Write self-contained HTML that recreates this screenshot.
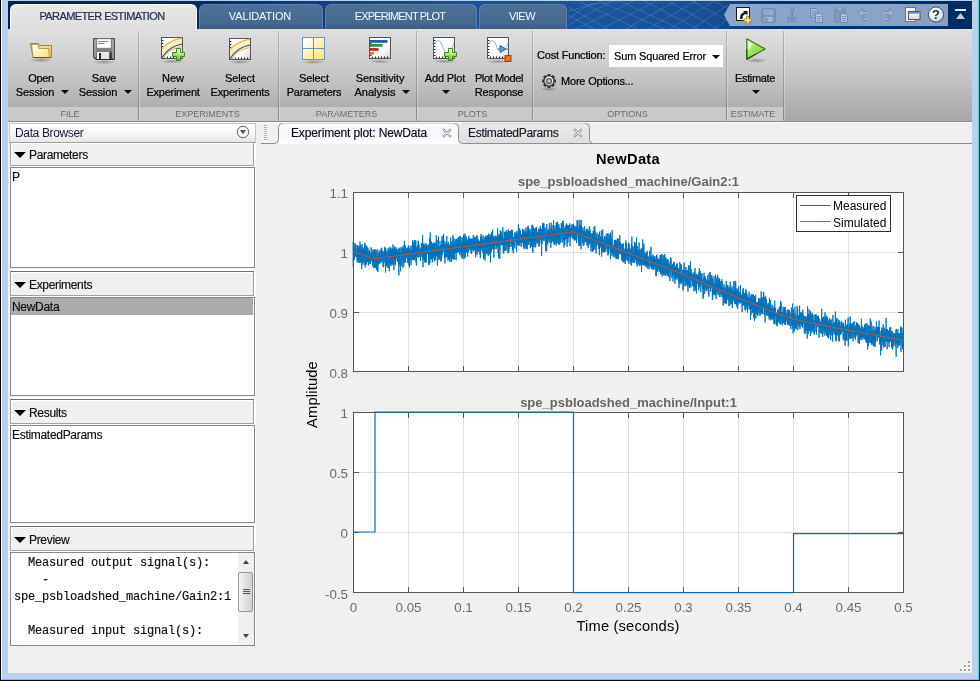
<!DOCTYPE html>
<html><head><meta charset="utf-8"><title>Parameter Estimation</title>
<style>
*{box-sizing:border-box;margin:0;padding:0}
html,body{width:980px;height:681px;overflow:hidden;background:#f0f0f0}
body{position:relative;font-family:"Liberation Sans",sans-serif;font-size:12px;color:#000}
.a{position:absolute}
/* header */
#hdr{left:8px;top:1px;width:964px;height:28px;background:linear-gradient(90deg,#04204d 0,#062a62 190px,#0d4088 320px,#16509e 470px,#1a559c 600px,#174f96 700px,#063070 760px,#002d62 964px)}
.tab{top:4px;height:25px;border-radius:6px 6px 0 0;text-align:center;font-size:11px;line-height:23px;color:#f6f9fc;background:linear-gradient(#4d7099,#47698f 75%,#3b5b81);border:1px solid #5f80a6;border-bottom:none;white-space:nowrap}
.tab.act{background:linear-gradient(#e7e7e7,#dfdfdf);color:#222e4e;border:1px solid #fdfdfd;border-bottom:none}
.tab span{display:inline-block}
#strip{left:8px;top:29px;width:964px;height:92px;background:linear-gradient(#dfdfdf 0,#d4d4d4 25%,#c3c3c3 55%,#b2b2b2 80%,#a8a8a8 100%)}
.seclab{top:107px;height:14px;background:#c9c9c9;font-size:9px;color:#676e78;text-align:center;line-height:14px;white-space:nowrap}
.vsep{top:31px;width:1px;height:89px;background:rgba(0,0,0,.2);box-shadow:1px 0 0 rgba(255,255,255,.3)}
.btn{text-align:center;font-size:11px;line-height:14px;color:#000;white-space:nowrap;-webkit-text-stroke:.22px #000}
.btn i{display:block;font-style:normal}
.arr{position:absolute;width:0;height:0;border-left:4px solid transparent;border-right:4px solid transparent;border-top:4px solid #0a0a0a}
/* panels */
.ph,.pl,.dt{-webkit-text-stroke:.15px #0a0a14}
.ph{left:10px;width:244px;height:25px;border:1px solid #a0a0a0;border-top-color:#6e6e6e;box-shadow:inset 1px 1px 0 #fff;background:#f0f0f0;font-size:12px;line-height:26px;padding-left:18px;letter-spacing:-.32px;color:#0a0a14;white-space:nowrap}
.ph.p0{height:24px;line-height:24px}
.ph.p0:before{top:9px}
.ph:before{content:"";position:absolute;left:3px;top:10px;border-left:6px solid transparent;border-right:6px solid transparent;border-top:6px solid #000}
.pl{left:10px;width:245px;border:1px solid #828790;background:#fff;font-size:12px;line-height:17px;letter-spacing:-.3px;color:#0a0a14}
.li{position:absolute;left:1px;top:1px;line-height:17px;white-space:nowrap}
.dt{font-size:12px;line-height:19px;white-space:nowrap}
.mono{font-family:"Liberation Mono",monospace;font-size:12px;letter-spacing:-.2px}
svg text{font-family:"Liberation Sans",sans-serif}
</style></head><body>
<!-- window frame -->
<div class="a" style="left:0;top:0;width:980px;height:681px;background:#b9d1ea"></div>
<div class="a" style="left:0;top:0;width:1px;height:681px;background:#0a0a0a"></div>
<div class="a" style="left:1px;top:0;width:1px;height:679px;background:#f6f9fd"></div>
<div class="a" style="left:978px;top:0;width:1px;height:680px;background:#35e0f7"></div>
<div class="a" style="left:979px;top:0;width:1px;height:681px;background:#0a0a0a"></div>
<div class="a" style="left:1px;top:679px;width:978px;height:1px;background:#35e0f7"></div>
<div class="a" style="left:0;top:680px;width:980px;height:1px;background:#0a0a0a"></div>
<div class="a" style="left:8px;top:1px;width:964px;height:672px;background:#f0f0f0"></div>
<!-- header -->
<div id="hdr" class="a"></div>
<div class="a tab act" style="left:10px;width:187px;padding-right:3px"><span style="letter-spacing:-.6px;-webkit-text-stroke:.2px #222e4e">PARAMETER ESTIMATION</span></div>
<div class="a tab" style="left:199px;width:124px;padding-right:2px"><span style="letter-spacing:-.15px">VALIDATION</span></div>
<div class="a tab" style="left:325px;width:152px;padding-right:2px"><span style="letter-spacing:-.85px">EXPERIMENT PLOT</span></div>
<div class="a tab" style="left:479px;width:88px;padding-right:2px"><span style="letter-spacing:-.5px">VIEW</span></div>
<div class="a" style="left:724px;top:4px;width:224px;height:22px;background:linear-gradient(90deg,#8aa6cb,#8ba4c6 60%,#8c9fbd);clip-path:polygon(6px 0,100% 0,100% 100%,6px 100%,0 50%)"></div>
<svg class="a" style="left:568px;top:1px;pointer-events:none" width="160" height="28" viewBox="0 0 160 28"><g fill="none" stroke="#8fb0dc" stroke-opacity=".33" stroke-width=".8"><path d="M0 6L40 28M0 14L26 28M10 0L70 28M30 0L96 28M52 0L112 28M76 0L130 28M100 0L150 28M124 0L160 20M146 0L160 8M0 24L44 0M8 28L66 0M34 28L88 0M58 28L108 0M80 28L128 0M102 28L146 0M124 28L160 4M146 28L160 18M0 18L20 4L50 0M0 10L30 2"/></g></svg>
<svg class="a" style="left:0;top:0;pointer-events:none" width="980" height="30" viewBox="0 0 980 30">
<defs>
 <radialGradient id="gHelp" cx=".4" cy=".3" r=".8"><stop offset="0" stop-color="#ffffff"/><stop offset=".6" stop-color="#e4e9f0"/><stop offset="1" stop-color="#b9c3d2"/></radialGradient>
 <linearGradient id="gWin" x1="0" y1="0" x2="0" y2="1"><stop offset="0" stop-color="#ffffff"/><stop offset="1" stop-color="#d8d8d8"/></linearGradient>
</defs>
<!-- shortcut/new -->
<g transform="translate(736,7)">
 <rect x=".5" y=".5" width="13" height="13" fill="#fdfdfd" stroke="#1a1a1a" stroke-width="1"/>
 <path d="M4 12C4 7.500 6 5.500 8.500 5.500L7 4H11.500V8.500L10 7C8 7 6.500 8.500 6.500 12z" fill="#111"/>
 <path d="M10.500 9.500h2.500v2.500h2.500v2.500h-2.500v2.500h-2.500v-2.500h-2.500v-2.500h2.500z" fill="#ffe98a" stroke="#b8860b" stroke-width=".9" stroke-linejoin="round"/>
</g>
<!-- disabled save -->
<g transform="translate(761,8)" opacity=".85">
 <rect x=".5" y=".5" width="14" height="14" rx="1" fill="#7d96b8" stroke="#7088ab"/>
 <rect x="3" y="1.500" width="9" height="5" fill="#a2b6d1"/>
 <path d="M4 3h7M4 5h5" stroke="#7d96b8" stroke-width=".8"/>
 <rect x="3.500" y="9" width="8" height="5" fill="#a9bcd6"/>
 <rect x="4.500" y="10" width="2" height="4" fill="#7088ab"/>
</g>
<!-- cut -->
<g transform="translate(787,7)" fill="none" stroke="#7189ac" stroke-width="1.200">
 <path d="M3.500 10.500L6.500 .5M6 10.500L3 .5" transform="translate(0.500,0)"/>
 <ellipse cx="2.500" cy="12.500" rx="1.800" ry="2.200"/>
 <ellipse cx="7" cy="12.500" rx="1.800" ry="2.200"/>
</g>
<!-- copy -->
<g transform="translate(810,8)">
 <path d="M.5 .5h5l2 2v7h-7z" fill="#a4b7d2" stroke="#7189ac"/>
 <path d="M2 3.500h4M2 5.500h4M2 7.500h3" stroke="#7189ac" stroke-width=".8"/>
 <path d="M5.500 5.500h5l2 2v7h-7z" fill="#b0c1d9" stroke="#7189ac"/>
 <path d="M7 8.500h4M7 10.500h4M7 12.500h3" stroke="#7189ac" stroke-width=".8"/>
</g>
<!-- paste -->
<g transform="translate(834,7)">
 <rect x=".5" y="2.500" width="11" height="12.500" rx="1" fill="#8098ba" stroke="#7189ac"/>
 <rect x="3.500" y=".8" width="5" height="3" rx="1" fill="#9fb3cf" stroke="#7189ac" stroke-width=".8"/>
 <path d="M6.500 6.500h5l2 2v7h-7z" fill="#b0c1d9" stroke="#7189ac"/>
 <path d="M8 9.500h4M8 11.500h4M8 13.500h3" stroke="#7189ac" stroke-width=".8"/>
</g>
<!-- undo -->
<g transform="translate(857,8)">
 <path d="M.5 5L6 .5V3.500H9.500C13 3.500 14 6 14 8C14 11 12 12.500 9.500 12.500H5.500V10H9.500C11 10 11.500 9 11.500 8C11.500 7 11 6.200 9.500 6.200H6V9.500z" fill="#9fb3cf" stroke="#7189ac" stroke-width=".9" stroke-linejoin="round"/>
</g>
<!-- redo -->
<g transform="translate(895,8) scale(-1,1)">
 <path d="M.5 5L6 .5V3.500H9.500C13 3.500 14 6 14 8C14 11 12 12.500 9.500 12.500H5.500V10H9.500C11 10 11.500 9 11.500 8C11.500 7 11 6.200 9.500 6.200H6V9.500z" fill="#9fb3cf" stroke="#7189ac" stroke-width=".9" stroke-linejoin="round"/>
</g>
<!-- windows -->
<g transform="translate(905,7)">
 <rect x=".5" y=".5" width="10" height="14" fill="#ededed" stroke="#6a6a6a" stroke-width=".9"/>
 <rect x="1" y="1" width="9" height="2" fill="#fafafa"/>
 <rect x="3.500" y="4.500" width="11.500" height="8" fill="url(#gWin)" stroke="#4a4a4a" stroke-width=".9"/>
 <rect x="4" y="5" width="10.500" height="1.800" fill="#5b9ad8"/>
</g>
<!-- help -->
<g transform="translate(936,14.500)">
 <circle r="7.600" fill="url(#gHelp)" stroke="#34517a" stroke-width="1"/>
 <text x="0" y="4.600" font-size="13" font-weight="bold" text-anchor="middle" fill="#26303f" font-family="Liberation Sans,sans-serif">?</text>
</g>
<!-- minimize -->
<rect x="955" y="9" width="11" height="2" fill="#e4e8ee"/>
<path d="M956 19L960.500 13L965 19z" fill="#c2cddc"/>
</svg>

<!-- toolstrip -->
<div id="strip" class="a"></div>
<div class="a seclab" style="left:8px;width:130px"><span style="position:relative;left:-3px">FILE</span></div>
<div class="a seclab" style="left:139px;width:139px"><span style="position:relative;left:-1px">EXPERIMENTS</span></div>
<div class="a seclab" style="left:279px;width:137px"><span style="position:relative;left:-1px">PARAMETERS</span></div>
<div class="a seclab" style="left:417px;width:115px"><span style="position:relative;left:-2px">PLOTS</span></div>
<div class="a seclab" style="left:533px;width:193px"><span style="position:relative;left:-2px">OPTIONS</span></div>
<div class="a seclab" style="left:727px;width:56px"><span style="position:relative;left:-2px">ESTIMATE</span></div>
<div class="a vsep" style="left:138px"></div>
<div class="a vsep" style="left:278px"></div>
<div class="a vsep" style="left:416px"></div>
<div class="a vsep" style="left:532px"></div>
<div class="a vsep" style="left:726px"></div>
<div class="a vsep" style="left:783px"></div>
<div class="a btn" style="left:11px;top:71px;width:60px"><i style="letter-spacing:-.35px">Open</i><i style="letter-spacing:-.1px;position:relative;left:-6px">Session</i></div><div class="a arr" style="left:61px;top:90px"></div>
<div class="a btn" style="left:74px;top:71px;width:60px"><i style="letter-spacing:-.12px">Save</i><i style="letter-spacing:-.1px;position:relative;left:-6px">Session</i></div><div class="a arr" style="left:124px;top:90px"></div>
<div class="a btn" style="left:138px;top:71px;width:70px"><i>New</i><i style="letter-spacing:-.25px">Experiment</i></div>
<div class="a btn" style="left:205px;top:71px;width:70px"><i style="letter-spacing:-.1px">Select</i><i style="letter-spacing:-.2px">Experiments</i></div>
<div class="a btn" style="left:279px;top:71px;width:70px"><i style="letter-spacing:-.1px">Select</i><i style="letter-spacing:-.22px">Parameters</i></div>
<div class="a btn" style="left:345px;top:71px;width:70px"><i style="letter-spacing:-.08px">Sensitivity</i><i style="position:relative;left:-5px">Analysis</i></div><div class="a arr" style="left:402px;top:90px"></div>
<div class="a btn" style="left:415px;top:71px;width:60px"><i style="letter-spacing:-.14px">Add Plot</i></div><div class="a arr" style="left:442px;top:90px"></div>
<div class="a btn" style="left:469px;top:71px;width:60px"><i style="letter-spacing:-.38px">Plot Model</i><i style="letter-spacing:-.13px">Response</i></div>
<div class="a btn" style="left:537px;top:48px;text-align:left;letter-spacing:-.19px">Cost Function:</div>
<div class="a" style="left:609px;top:45px;width:114px;height:22px;background:#fff;font-size:11px;line-height:22px;padding-left:5px;letter-spacing:-.16px;white-space:nowrap;-webkit-text-stroke:.2px #000">Sum Squared Error</div><div class="a arr" style="left:712px;top:55px"></div>
<div class="a btn" style="left:561px;top:74px;text-align:left;letter-spacing:-.19px">More Options...</div>
<div class="a btn" style="left:725px;top:71px;width:60px"><i style="letter-spacing:-.37px">Estimate</i></div><div class="a arr" style="left:752px;top:90px"></div>
<svg class="a" style="left:0;top:0;pointer-events:none" width="980" height="130" viewBox="0 0 980 130">
<defs>
 <linearGradient id="gFold" x1="0" y1="0" x2="1" y2="1"><stop offset="0" stop-color="#ffffff"/><stop offset=".3" stop-color="#fffdf0"/><stop offset=".6" stop-color="#fdf0a8"/><stop offset="1" stop-color="#f6da6a"/></linearGradient>
 <linearGradient id="gFl" x1="0" y1="0" x2="0" y2="1"><stop offset="0" stop-color="#909090"/><stop offset=".5" stop-color="#848484"/><stop offset="1" stop-color="#5e5e5e"/></linearGradient>
 <linearGradient id="gPaper" x1="0" y1="0" x2="1" y2="1"><stop offset="0" stop-color="#fff"/><stop offset=".6" stop-color="#fff"/><stop offset="1" stop-color="#d4d4d4"/></linearGradient>
 <linearGradient id="gPlus" x1="0" y1="0" x2="0" y2="1"><stop offset="0" stop-color="#f2fbdc"/><stop offset=".45" stop-color="#b6e070"/><stop offset="1" stop-color="#6fb830"/></linearGradient>
 <linearGradient id="gCell" gradientUnits="userSpaceOnUse" x1="0" y1="0" x2="23" y2="23"><stop offset="0" stop-color="#ffffff"/><stop offset=".18" stop-color="#fffef4"/><stop offset=".55" stop-color="#fdf1ae"/><stop offset="1" stop-color="#fae283"/></linearGradient>
 <linearGradient id="gCell0" x1="0" y1="0" x2="1" y2="1"><stop offset="0" stop-color="#ffffff"/><stop offset="1" stop-color="#fdf0b5"/></linearGradient>
 <linearGradient id="gPlay" x1="0" y1="0" x2="1" y2="1"><stop offset="0" stop-color="#d6f2a0"/><stop offset=".5" stop-color="#a0dc58"/><stop offset="1" stop-color="#78c838"/></linearGradient>
 <linearGradient id="gGear" x1="0" y1="0" x2="0" y2="1"><stop offset="0" stop-color="#ffffff"/><stop offset="1" stop-color="#c9c9c9"/></linearGradient>
 <radialGradient id="gSh"><stop offset="0" stop-color="#000" stop-opacity=".28"/><stop offset="1" stop-color="#000" stop-opacity="0"/></radialGradient>
 <g id="plotbox">
  <rect x=".5" y=".5" width="21" height="21" fill="url(#gPaper)" stroke="#555" stroke-width="1"/>
  <path d="M1 3.500h1.400M1 6.500h1.400M1 9.500h1.400M1 12.500h1.400M1 15.500h1.400M1 18.500h1.400M3.500 21v-1.400M6.500 21v-1.400M9.500 21v-1.400M12.500 21v-1.400M15.500 21v-1.400M18.500 21v-1.400" stroke="#222" stroke-width="1.1" fill="none"/>
 </g>
 <g id="plus">
  <path d="M4.500 .5h4v4h4v4h-4v4h-4v-4h-4v-4h4z" fill="url(#gPlus)" stroke="#3f8a1c" stroke-width="1" stroke-linejoin="round"/>
  <path d="M5.500 1.700h2v3.800h3.800" fill="none" stroke="#eefad8" stroke-width=".8" opacity=".8"/>
 </g>
 <g id="curves">
  <path d="M1 11C5 6.500 11 2.800 21 1V9.500C14 10 8 13 3 21H1z" fill="#f9edcc"/>
  <path d="M1 11.500C5 6.800 11 3 21 1.200" fill="none" stroke="#e8b550" stroke-width="1.300"/>
  <path d="M2.500 21C7 13.500 13 10.500 21 9.600" fill="none" stroke="#ecc070" stroke-width="1.300"/>
  <path d="M1 20.800C5 13.500 11 9 21 7" fill="none" stroke="#1d4a86" stroke-width="1.200"/>
 </g>
</defs>
<!-- shadows -->
<g>
 <ellipse cx="41" cy="60" rx="12.500" ry="2.600" fill="url(#gSh)"/>
 <ellipse cx="104" cy="62" rx="12" ry="2.200" fill="url(#gSh)"/>
 <ellipse cx="172" cy="61.500" rx="12" ry="2.200" fill="url(#gSh)"/>
 <ellipse cx="240" cy="62" rx="12" ry="2.200" fill="url(#gSh)"/>
 <ellipse cx="313.500" cy="62" rx="12" ry="2.200" fill="url(#gSh)"/>
 <ellipse cx="380" cy="61.500" rx="12" ry="2.200" fill="url(#gSh)"/>
 <ellipse cx="444" cy="61.500" rx="12" ry="2.200" fill="url(#gSh)"/>
 <ellipse cx="498" cy="61.500" rx="12" ry="2.200" fill="url(#gSh)"/>
 <ellipse cx="756" cy="60.500" rx="11" ry="2.600" fill="url(#gSh)"/>
 <ellipse cx="549" cy="89" rx="8.500" ry="2.200" fill="url(#gSh)"/>
</g>
<!-- open folder -->
<g transform="translate(30,43)">
 <path d="M.5 .5H8.500L9.500 2.500H21.500V14.500H3z" fill="#e9c988" stroke="#b37d22" stroke-width="1" stroke-linejoin="miter"/>
 <path d="M10 4h10.500" stroke="#f8ecc8" stroke-width="1"/>
 <path d="M1.500 1.500H7.500L8.800 5.500H18.500L19.500 14.500H3.200z" fill="url(#gFold)" stroke="#b98a2c" stroke-width=".8" stroke-linejoin="miter"/>
 <path d="M3 14.500H20.500" stroke="#7a5608" stroke-width="1"/>
</g>
<!-- save floppy -->
<g transform="translate(93,38)">
 <path d="M.5 .5H21.500V21.500H2.500L.5 19.500z" fill="url(#gFl)" stroke="#4c4c4c" stroke-width="1"/>
 <path d="M2 1.500V19M20 1.500V20.500" stroke="#b4b4b4" stroke-width="1.400" opacity=".8"/>
 <rect x="3.800" y=".8" width="14.400" height="9.400" fill="#fdfdfd" stroke="#6e6e6e" stroke-width=".7"/>
 <path d="M5 3.500h10.500M5 5.500h6.500" stroke="#8c8c8c" stroke-width="1"/>
 <rect x="4" y="14" width="12.200" height="7" fill="#f6f6f6"/>
 <rect x="8" y="15" width="8" height="6" fill="#e6e6e6"/>
 <rect x="6" y="15" width="2" height="6" fill="#2c2c2c"/>
 <rect x="16.500" y="14" width="2.200" height="7" fill="#3c3c3c"/>
 <path d="M3 21.500H21" stroke="#2e2e2e" stroke-width="1"/>
</g>
<!-- new experiment -->
<g transform="translate(161,37)"><use href="#plotbox"/><use href="#curves"/><g transform="translate(11,11)"><use href="#plus"/></g></g>
<!-- select experiments -->
<g transform="translate(229,38)"><use href="#plotbox"/><use href="#curves"/></g>
<!-- select parameters -->
<g transform="translate(302,37)">
 <rect x="0" y="0" width="23" height="23" fill="#7193bf"/>
 <rect x="1" y="1" width="10" height="10" fill="url(#gCell)"/>
 <rect x="12" y="1" width="10" height="10" fill="url(#gCell)"/>
 <rect x="1" y="12" width="10" height="10" fill="url(#gCell)"/>
 <rect x="12" y="12" width="10" height="10" fill="url(#gCell)"/>
</g>
<!-- sensitivity -->
<g transform="translate(369,37)"><use href="#plotbox"/>
 <rect x="1" y="3" width="17.500" height="2.800" fill="#1f5fb0"/>
 <rect x="1" y="7" width="12.500" height="2.800" fill="#2d9a43"/>
 <rect x="1" y="11" width="8.500" height="2.800" fill="#d9202a"/>
 <rect x="1" y="15" width="3.800" height="2.800" fill="#e07a1c"/>
</g>
<!-- add plot -->
<g transform="translate(433,37)"><use href="#plotbox"/>
 <path d="M2 6.500C4 2.500 7 2.500 9 8S13.500 20 16 18S19.500 10 21 5" fill="none" stroke="#9cc4ea" stroke-width="1.100"/>
 <g transform="translate(11,11)"><use href="#plus"/></g></g>
<!-- plot model response -->
<g transform="translate(487,37)"><use href="#plotbox"/>
 <path d="M2 6.500C4 2.500 7 2.500 9 8S11 13 12 14M19.500 10L21 5" fill="none" stroke="#9cc4ea" stroke-width="1.100"/>
 <path d="M10.500 12h11" stroke="#777" stroke-width="1"/>
 <path d="M13 8.500L19 12L13 15.500z" fill="#5aa0e6" stroke="#1b5fb5" stroke-width="1" stroke-linejoin="round"/>
 <rect x="18" y="18.500" width="6" height="6" fill="#e4671a" stroke="#a5400a" stroke-width="1"/>
 <path d="M19.500 23L23 19.500" stroke="#f59a4a" stroke-width="1"/>
</g>
<!-- gear -->
<g transform="translate(549,81)">
 <g fill="#3a3a3a"><rect x="-1.700" y="-7" width="3.400" height="14" rx=".7"/><rect x="-1.700" y="-7" width="3.400" height="14" rx=".7" transform="rotate(45)"/><rect x="-1.700" y="-7" width="3.400" height="14" rx=".7" transform="rotate(90)"/><rect x="-1.700" y="-7" width="3.400" height="14" rx=".7" transform="rotate(135)"/></g>
 <circle r="5.400" fill="#3a3a3a"/>
 <circle r="4.400" fill="url(#gGear)"/>
 <circle r="2.900" fill="#3a3a3a"/>
 <circle r="1.900" fill="#c4c4c4"/>
</g>
<!-- play -->
<g transform="translate(746,38)">
 <path d="M.8 .8L19.200 11L.8 21.200z" fill="url(#gPlay)" stroke="#2f7a10" stroke-width="1.100" stroke-linejoin="round"/>
 <path d="M.8 11V21.200L10 16.100" fill="none" stroke="#123a08" stroke-width="1.100" stroke-linejoin="round" opacity=".75"/>
 <path d="M2.300 3.200V12L7 5.800z" fill="#ffffff" opacity=".75"/>
</g>
</svg>

<div class="a" style="left:8px;top:121px;width:964px;height:1px;background:#8c8c8c"></div>
<div class="a" style="left:8px;top:122px;width:964px;height:1px;background:#f8f8f8"></div>
<!-- data browser -->
<div class="a" style="left:9px;top:123px;width:247px;height:20px;border:1px solid #c6c6c6;border-bottom-color:#a0a0a0;background:linear-gradient(#ffffff,#fafafa 40%,#ececec 80%,#e6e6e6);font-size:12px;line-height:18px;padding-left:5px;color:#1a1a3a;letter-spacing:-.35px">Data Browser</div>
<svg class="a" style="left:236px;top:125px" width="14" height="14" viewBox="0 0 14 14"><circle cx="7" cy="7" r="5.700" fill="#f6f6f6" stroke="#666" stroke-width="1"/><path d="M4 5h6l-3 4.500z" fill="#5a5a5a"/></svg>
<div class="a" style="left:10px;top:143px;width:246px;height:530px;background:#fff"></div>
<div class="a ph p0" style="top:142px;border-top-color:#a0a0a0">Parameters</div>
<div class="a pl" style="top:167px;height:101px"><span class="li">P</span></div>
<div class="a" style="left:10px;top:268px;width:246px;height:1px;background:#f4f4f4"></div>
<div class="a ph" style="top:271px">Experiments</div>
<div class="a pl" style="top:297px;height:99px"><div class="a" style="left:0;top:0;width:242px;height:17px;background:#ababab"></div><span class="li">NewData</span></div>
<div class="a" style="left:10px;top:396px;width:246px;height:1px;background:#f4f4f4"></div>
<div class="a ph" style="top:399px">Results</div>
<div class="a pl" style="top:425px;height:98px"><span class="li">EstimatedParams</span></div>
<div class="a" style="left:10px;top:523px;width:246px;height:1px;background:#f4f4f4"></div>
<div class="a ph" style="top:526px">Preview</div>
<div class="a pl mono" style="top:552px;height:94px;padding-left:3px;white-space:pre;line-height:17px;overflow:hidden;padding-top:2px">  Measured output signal(s):
    -
spe_psbloadshed_machine/Gain2:1

  Measured input signal(s):</div>
<div class="a" style="left:9px;top:646px;width:248px;height:27px;background:#f0f0f0"></div>
<div class="a" style="left:256px;top:123px;width:5px;height:550px;background:#f0f0f0"></div>
<!-- preview scrollbar -->
<div class="a" style="left:238px;top:553px;width:16px;height:92px;background:#f0f0f0"></div>
<div class="a" style="left:238px;top:572px;width:15px;height:40px;border:1px solid #979797;border-radius:2px;background:linear-gradient(90deg,#f5f5f5,#e2e2e2 50%,#d0d0d0)"></div>
<div class="a" style="left:243px;top:589px;width:7px;height:1px;background:#555;box-shadow:0 2px 0 #555,0 4px 0 #555"></div>
<div class="a" style="left:243px;top:560px;width:0;height:0;border-left:3.5px solid transparent;border-right:3.5px solid transparent;border-bottom:4px solid #444"></div>
<div class="a" style="left:243px;top:634px;width:0;height:0;border-left:3.5px solid transparent;border-right:3.5px solid transparent;border-top:4px solid #444"></div>
<!-- doc tabs -->
<div class="a" style="left:264px;top:125px;width:3px;height:16px;background:repeating-linear-gradient(#b4b4b4 0,#b4b4b4 1px,#f4f4f4 1px,#f4f4f4 2px)"></div>
<svg class="a" style="left:0;top:0;pointer-events:none" width="980" height="150" viewBox="0 0 980 150">
 <defs><linearGradient id="gT1" x1="0" y1="0" x2="0" y2="1"><stop offset="0" stop-color="#fefefe"/><stop offset=".45" stop-color="#f4f6fb"/><stop offset="1" stop-color="#ffffff"/></linearGradient>
 <linearGradient id="gT2" x1="0" y1="0" x2="0" y2="1"><stop offset="0" stop-color="#ebebeb"/><stop offset="1" stop-color="#dedede"/></linearGradient></defs>
 <path d="M458.500 123.500H585.500Q589.500 123.500 589.500 127.500V139.500Q589.500 143.500 593.500 143.500H458.500z" fill="url(#gT2)"/>
 <path d="M274.500 144Q278.500 143.500 278.500 139.500V127.500Q278.500 123.500 282.500 123.500H454.500Q458.500 123.500 458.500 127.500V139.500Q458.500 143.500 462.500 144z" fill="url(#gT1)"/>
 <path d="M282.500 123.500H454.500M462.500 123.500H585.500" fill="none" stroke="#d2d2d2" stroke-width="1"/>
 <path d="M261 143.500H274.500Q278.500 143.500 278.500 139.500V127.500Q278.500 123.500 282.500 123.500M454.500 123.500Q458.500 123.500 458.500 127.500V139.500Q458.500 143.500 462.500 143.500H972M585.500 123.500Q589.500 123.500 589.500 127.500V139.500Q589.500 143.500 593.500 143.500" fill="none" stroke="#8e8e8e" stroke-width="1"/>
 <g fill="none"><path d="M444 130l6 6M450 130l-6 6M575 130l6 6M581 130l-6 6" stroke="#9c9c9c" stroke-width="2.400" stroke-linecap="square"/><path d="M444 130l6 6M450 130l-6 6M575 130l6 6M581 130l-6 6" stroke="#eeeeee" stroke-width=".9" stroke-linecap="square"/></g>
</svg>
<div class="a dt" style="left:291px;top:124px;letter-spacing:-.14px;color:#0a0a14">Experiment plot: NewData</div>
<div class="a dt" style="left:468px;top:124px;letter-spacing:-.29px;color:#1a1a2a">EstimatedParams</div>
<!-- resize grip -->
<div class="a" style="left:960px;top:661px;width:11px;height:11px">
 <div class="a" style="left:8px;top:0;width:2px;height:2px;background:#a8a392;box-shadow:1px 1px 0 #fff,-4px 4px 0 #a8a392,-3px 5px 0 #fff,0 4px 0 #a8a392,1px 5px 0 #fff,-8px 8px 0 #a8a392,-7px 9px 0 #fff,-4px 8px 0 #a8a392,-3px 9px 0 #fff,0 8px 0 #a8a392,1px 9px 0 #fff"></div>
</div>
<!-- plot -->
<svg class="a" style="left:0;top:0" width="980" height="681" viewBox="0 0 980 681">
 <rect x="353.5" y="192.5" width="550" height="179" fill="#fff"/>
 <rect x="353.5" y="412.5" width="550" height="180" fill="#fff"/>
 <g stroke="#dfdfdf" stroke-width="1" fill="none">
 <line x1="408.5" x2="408.5" y1="193" y2="371"/>
<line x1="408.5" x2="408.5" y1="413" y2="592"/>
<line x1="463.5" x2="463.5" y1="193" y2="371"/>
<line x1="463.5" x2="463.5" y1="413" y2="592"/>
<line x1="518.5" x2="518.5" y1="193" y2="371"/>
<line x1="518.5" x2="518.5" y1="413" y2="592"/>
<line x1="573.5" x2="573.5" y1="193" y2="371"/>
<line x1="573.5" x2="573.5" y1="413" y2="592"/>
<line x1="628.5" x2="628.5" y1="193" y2="371"/>
<line x1="628.5" x2="628.5" y1="413" y2="592"/>
<line x1="683.5" x2="683.5" y1="193" y2="371"/>
<line x1="683.5" x2="683.5" y1="413" y2="592"/>
<line x1="738.5" x2="738.5" y1="193" y2="371"/>
<line x1="738.5" x2="738.5" y1="413" y2="592"/>
<line x1="793.5" x2="793.5" y1="193" y2="371"/>
<line x1="793.5" x2="793.5" y1="413" y2="592"/>
<line x1="848.5" x2="848.5" y1="193" y2="371"/>
<line x1="848.5" x2="848.5" y1="413" y2="592"/>
<line x1="354" x2="903" y1="252.5" y2="252.5"/>
<line x1="354" x2="903" y1="312.5" y2="312.5"/>
<line x1="354" x2="903" y1="472.5" y2="472.5"/>
<line x1="354" x2="903" y1="532.5" y2="532.5"/>
 </g>
 <g stroke="#555" stroke-width="1" fill="none">
  <rect x="353.5" y="192.5" width="550" height="179"/>
  <rect x="353.5" y="412.5" width="550" height="180"/>
  <line x1="408.5" x2="408.5" y1="371.5" y2="366"/><line x1="408.5" x2="408.5" y1="192.5" y2="198"/>
<line x1="408.5" x2="408.5" y1="592.5" y2="587"/><line x1="408.5" x2="408.5" y1="412.5" y2="418"/>
<line x1="463.5" x2="463.5" y1="371.5" y2="366"/><line x1="463.5" x2="463.5" y1="192.5" y2="198"/>
<line x1="463.5" x2="463.5" y1="592.5" y2="587"/><line x1="463.5" x2="463.5" y1="412.5" y2="418"/>
<line x1="518.5" x2="518.5" y1="371.5" y2="366"/><line x1="518.5" x2="518.5" y1="192.5" y2="198"/>
<line x1="518.5" x2="518.5" y1="592.5" y2="587"/><line x1="518.5" x2="518.5" y1="412.5" y2="418"/>
<line x1="573.5" x2="573.5" y1="371.5" y2="366"/><line x1="573.5" x2="573.5" y1="192.5" y2="198"/>
<line x1="573.5" x2="573.5" y1="592.5" y2="587"/><line x1="573.5" x2="573.5" y1="412.5" y2="418"/>
<line x1="628.5" x2="628.5" y1="371.5" y2="366"/><line x1="628.5" x2="628.5" y1="192.5" y2="198"/>
<line x1="628.5" x2="628.5" y1="592.5" y2="587"/><line x1="628.5" x2="628.5" y1="412.5" y2="418"/>
<line x1="683.5" x2="683.5" y1="371.5" y2="366"/><line x1="683.5" x2="683.5" y1="192.5" y2="198"/>
<line x1="683.5" x2="683.5" y1="592.5" y2="587"/><line x1="683.5" x2="683.5" y1="412.5" y2="418"/>
<line x1="738.5" x2="738.5" y1="371.5" y2="366"/><line x1="738.5" x2="738.5" y1="192.5" y2="198"/>
<line x1="738.5" x2="738.5" y1="592.5" y2="587"/><line x1="738.5" x2="738.5" y1="412.5" y2="418"/>
<line x1="793.5" x2="793.5" y1="371.5" y2="366"/><line x1="793.5" x2="793.5" y1="192.5" y2="198"/>
<line x1="793.5" x2="793.5" y1="592.5" y2="587"/><line x1="793.5" x2="793.5" y1="412.5" y2="418"/>
<line x1="848.5" x2="848.5" y1="371.5" y2="366"/><line x1="848.5" x2="848.5" y1="192.5" y2="198"/>
<line x1="848.5" x2="848.5" y1="592.5" y2="587"/><line x1="848.5" x2="848.5" y1="412.5" y2="418"/>
<line x1="353.5" x2="359" y1="252.5" y2="252.5"/><line x1="903.5" x2="898" y1="252.5" y2="252.5"/>
<line x1="353.5" x2="359" y1="312.5" y2="312.5"/><line x1="903.5" x2="898" y1="312.5" y2="312.5"/>
<line x1="353.5" x2="359" y1="472.5" y2="472.5"/><line x1="903.5" x2="898" y1="472.5" y2="472.5"/>
<line x1="353.5" x2="359" y1="532.5" y2="532.5"/><line x1="903.5" x2="898" y1="532.5" y2="532.5"/>
 </g>
 <polyline points="353,241.6 353.1,253.3 353.2,254.5 353.3,267.0 353.4,251.9 353.6,253.7 353.7,255.0 353.8,250.1 353.9,249.5 354,258.1 354.1,257.1 354.2,254.8 354.3,248.1 354.4,248.9 354.5,259.6 354.6,258.6 354.8,248.0 354.9,243.3 355,252.5 355.1,256.3 355.2,246.1 355.3,254.2 355.4,248.3 355.5,243.6 355.6,248.9 355.8,252.1 355.9,248.4 356,256.3 356.1,253.7 356.2,257.2 356.3,253.9 356.4,255.6 356.5,253.9 356.6,255.0 356.7,252.4 356.9,252.6 357,251.3 357.1,245.0 357.2,261.9 357.3,245.6 357.4,254.5 357.5,260.2 357.6,254.2 357.7,252.7 357.8,245.0 357.9,259.4 358.1,252.1 358.2,252.7 358.3,263.0 358.4,260.2 358.5,250.0 358.6,249.5 358.7,247.3 358.8,250.5 358.9,251.3 359.1,252.9 359.2,246.7 359.3,258.5 359.4,254.6 359.5,251.6 359.6,262.9 359.7,246.3 359.8,258.4 359.9,254.3 360,241.6 360.1,258.7 360.3,257.1 360.4,245.1 360.5,262.5 360.6,256.6 360.7,251.2 360.8,251.6 360.9,250.8 361,252.2 361.1,246.6 361.2,248.5 361.4,251.0 361.5,258.3 361.6,258.5 361.7,269.3 361.8,250.6 361.9,265.0 362,247.8 362.1,244.1 362.2,262.9 362.4,258.6 362.5,257.5 362.6,250.0 362.7,259.8 362.8,255.9 362.9,257.9 363,256.9 363.1,247.6 363.2,260.5 363.3,254.6 363.4,253.5 363.6,250.2 363.7,262.4 363.8,248.8 363.9,252.7 364,250.2 364.1,254.9 364.2,264.7 364.3,259.1 364.4,250.7 364.6,255.2 364.7,255.7 364.8,245.2 364.9,242.9 365,255.8 365.1,244.5 365.2,267.1 365.3,267.4 365.4,250.7 365.5,257.2 365.6,252.5 365.8,252.9 365.9,256.4 366,252.0 366.1,255.1 366.2,264.7 366.3,254.7 366.4,255.0 366.5,245.6 366.6,262.6 366.8,256.0 366.9,259.5 367,257.0 367.1,246.7 367.2,254.1 367.3,259.0 367.4,255.5 367.5,252.0 367.6,262.1 367.7,258.0 367.9,247.7 368,251.6 368.1,256.8 368.2,259.3 368.3,257.5 368.4,265.6 368.5,251.3 368.6,254.8 368.7,256.0 368.8,264.3 368.9,261.0 369.1,253.9 369.2,255.5 369.3,259.8 369.4,254.1 369.5,249.8 369.6,260.9 369.7,260.1 369.8,262.1 369.9,263.8 370.1,252.7 370.2,254.3 370.3,255.3 370.4,264.0 370.5,263.4 370.6,257.8 370.7,259.8 370.8,256.8 370.9,261.5 371,253.8 371.1,247.3 371.3,248.8 371.4,248.4 371.5,257.3 371.6,252.4 371.7,259.9 371.8,252.5 371.9,260.0 372,260.7 372.1,261.6 372.2,253.9 372.4,256.4 372.5,256.9 372.6,264.6 372.7,257.3 372.8,266.4 372.9,249.7 373,258.9 373.1,257.1 373.2,258.9 373.4,267.4 373.5,266.2 373.6,258.5 373.7,249.8 373.8,264.8 373.9,262.5 374,258.8 374.1,268.2 374.2,268.3 374.3,261.0 374.4,258.9 374.6,260.9 374.7,249.9 374.8,259.7 374.9,256.7 375,249.7 375.1,249.1 375.2,267.9 375.3,260.9 375.4,252.1 375.6,266.6 375.7,264.0 375.8,266.2 375.9,266.5 376,265.2 376.1,257.7 376.2,251.4 376.3,249.9 376.4,258.6 376.5,269.9 376.6,258.9 376.8,260.5 376.9,256.6 377,259.3 377.1,268.8 377.2,256.2 377.3,270.4 377.4,262.4 377.5,256.7 377.6,256.5 377.8,249.5 377.9,272.0 378,256.5 378.1,254.5 378.2,260.9 378.3,254.7 378.4,264.7 378.5,254.6 378.6,255.2 378.7,263.9 378.9,262.1 379,259.4 379.1,262.0 379.2,252.3 379.3,257.2 379.4,250.7 379.5,251.5 379.6,257.8 379.7,259.3 379.8,263.6 379.9,262.8 380.1,262.7 380.2,256.1 380.3,263.2 380.4,257.6 380.5,257.0 380.6,260.9 380.7,259.1 380.8,249.8 380.9,248.8 381.1,262.5 381.2,259.1 381.3,260.1 381.4,259.5 381.5,249.1 381.6,254.0 381.7,250.7 381.8,247.7 381.9,260.4 382,258.9 382.1,257.6 382.3,252.0 382.4,258.3 382.5,254.1 382.6,251.1 382.7,251.1 382.8,255.2 382.9,262.3 383,266.6 383.1,251.3 383.2,255.1 383.4,263.1 383.5,260.6 383.6,260.2 383.7,267.2 383.8,256.2 383.9,262.1 384,259.3 384.1,253.3 384.2,258.1 384.4,254.4 384.5,255.1 384.6,257.3 384.7,257.2 384.8,246.8 384.9,258.5 385,248.1 385.1,262.7 385.2,253.3 385.3,256.4 385.4,261.6 385.6,272.5 385.7,248.2 385.8,264.0 385.9,262.9 386,256.6 386.1,257.0 386.2,255.7 386.3,258.7 386.4,265.9 386.6,252.3 386.7,262.4 386.8,255.9 386.9,253.9 387,250.4 387.1,258.4 387.2,258.9 387.3,258.5 387.4,267.7 387.5,261.4 387.6,262.9 387.8,263.7 387.9,256.1 388,258.8 388.1,247.9 388.2,248.5 388.3,267.8 388.4,256.3 388.5,262.7 388.6,253.8 388.8,256.0 388.9,251.6 389,255.1 389.1,252.5 389.2,258.6 389.3,271.2 389.4,263.6 389.5,261.7 389.6,259.6 389.7,262.6 389.9,247.4 390,257.7 390.1,249.3 390.2,258.7 390.3,247.3 390.4,263.6 390.5,253.3 390.6,264.3 390.7,254.1 390.8,247.6 390.9,266.0 391.1,261.6 391.2,255.2 391.3,257.7 391.4,264.4 391.5,249.9 391.6,256.3 391.7,249.1 391.8,254.7 391.9,263.1 392.1,259.3 392.2,248.6 392.3,264.4 392.4,259.1 392.5,253.0 392.6,250.6 392.7,250.0 392.8,264.8 392.9,244.4 393,257.3 393.1,256.3 393.3,256.4 393.4,257.6 393.5,263.8 393.6,258.2 393.7,248.7 393.8,264.1 393.9,270.2 394,253.2 394.1,254.3 394.2,252.0 394.4,246.3 394.5,260.3 394.6,255.1 394.7,253.3 394.8,249.1 394.9,250.2 395,260.9 395.1,264.0 395.2,257.6 395.4,265.3 395.5,249.7 395.6,258.3 395.7,258.8 395.8,261.1 395.9,247.2 396,253.7 396.1,258.3 396.2,252.4 396.3,256.4 396.4,252.5 396.6,248.3 396.7,257.4 396.8,252.9 396.9,253.1 397,249.3 397.1,252.4 397.2,255.6 397.3,259.5 397.4,254.1 397.6,261.7 397.7,252.0 397.8,255.4 397.9,252.6 398,258.7 398.1,261.9 398.2,260.9 398.3,249.3 398.4,256.9 398.5,256.9 398.6,265.8 398.8,255.9 398.9,275.4 399,247.8 399.1,256.9 399.2,255.4 399.3,263.7 399.4,261.8 399.5,252.0 399.6,256.7 399.8,253.0 399.9,248.2 400,251.6 400.1,266.3 400.2,261.0 400.3,261.9 400.4,260.6 400.5,267.3 400.6,271.2 400.7,259.6 400.9,258.7 401,252.3 401.1,257.1 401.2,247.1 401.3,265.7 401.4,263.2 401.5,253.8 401.6,256.8 401.7,260.8 401.8,250.8 401.9,248.9 402.1,247.6 402.2,257.4 402.3,255.2 402.4,253.8 402.5,254.8 402.6,249.2 402.7,257.9 402.8,252.9 402.9,267.7 403.1,250.7 403.2,245.6 403.3,255.1 403.4,249.0 403.5,264.5 403.6,256.8 403.7,266.9 403.8,253.1 403.9,251.9 404,262.7 404.1,259.7 404.3,258.2 404.4,241.0 404.5,255.2 404.6,254.1 404.7,252.7 404.8,252.5 404.9,256.1 405,262.4 405.1,258.6 405.2,245.3 405.4,253.2 405.5,256.8 405.6,262.4 405.7,255.0 405.8,254.4 405.9,258.4 406,249.5 406.1,258.0 406.2,255.5 406.4,249.7 406.5,253.3 406.6,248.1 406.7,255.8 406.8,257.0 406.9,250.8 407,252.8 407.1,247.7 407.2,252.1 407.3,254.6 407.4,251.8 407.6,249.3 407.7,263.1 407.8,255.2 407.9,256.3 408,247.4 408.1,257.1 408.2,248.2 408.3,261.5 408.4,254.6 408.6,248.1 408.7,255.7 408.8,245.3 408.9,265.8 409,254.0 409.1,253.2 409.2,254.9 409.3,262.8 409.4,250.3 409.5,267.5 409.6,248.7 409.8,252.4 409.9,248.4 410,255.5 410.1,260.4 410.2,257.0 410.3,256.7 410.4,250.6 410.5,255.8 410.6,251.6 410.8,251.2 410.9,245.8 411,265.3 411.1,256.2 411.2,249.9 411.3,249.9 411.4,257.0 411.5,255.3 411.6,254.3 411.7,253.0 411.9,257.0 412,257.4 412.1,260.1 412.2,255.8 412.3,245.7 412.4,259.1 412.5,248.1 412.6,242.5 412.7,252.4 412.8,240.0 412.9,254.3 413.1,243.9 413.2,253.7 413.3,260.4 413.4,251.4 413.5,242.6 413.6,256.7 413.7,250.6 413.8,259.0 413.9,258.4 414.1,250.7 414.2,254.3 414.3,250.0 414.4,245.9 414.5,259.9 414.6,257.1 414.7,252.9 414.8,239.9 414.9,255.0 415,255.8 415.1,250.5 415.3,241.0 415.4,257.4 415.5,254.7 415.6,252.7 415.7,248.6 415.8,240.4 415.9,260.0 416,262.4 416.1,251.9 416.2,249.7 416.4,265.5 416.5,256.2 416.6,247.2 416.7,255.7 416.8,249.9 416.9,251.6 417,248.9 417.1,250.1 417.2,251.1 417.4,245.4 417.5,255.7 417.6,251.8 417.7,246.0 417.8,256.6 417.9,254.5 418,256.7 418.1,257.7 418.2,240.8 418.3,249.6 418.4,241.6 418.6,248.1 418.7,251.8 418.8,253.9 418.9,250.7 419,252.3 419.1,244.9 419.2,257.2 419.3,251.2 419.4,249.5 419.6,253.5 419.7,253.5 419.8,249.0 419.9,248.9 420,252.7 420.1,252.1 420.2,255.2 420.3,248.9 420.4,252.7 420.5,261.0 420.6,253.8 420.8,248.5 420.9,250.4 421,257.1 421.1,247.8 421.2,248.6 421.3,248.5 421.4,243.3 421.5,253.9 421.6,248.6 421.8,253.5 421.9,246.4 422,242.9 422.1,249.2 422.2,247.7 422.3,256.6 422.4,248.4 422.5,258.8 422.6,235.1 422.7,245.4 422.9,260.7 423,267.2 423.1,244.6 423.2,256.9 423.3,248.9 423.4,259.5 423.5,251.6 423.6,255.7 423.7,248.6 423.8,253.9 423.9,243.5 424.1,256.3 424.2,244.7 424.3,252.1 424.4,249.0 424.5,261.1 424.6,262.0 424.7,245.9 424.8,259.0 424.9,253.9 425.1,253.8 425.2,258.9 425.3,250.7 425.4,262.8 425.5,258.7 425.6,246.6 425.7,256.5 425.8,247.6 425.9,248.0 426,243.1 426.1,249.2 426.3,262.3 426.4,255.5 426.5,254.1 426.6,244.7 426.7,249.8 426.8,254.5 426.9,249.2 427,253.8 427.1,248.6 427.2,250.8 427.4,245.3 427.5,249.7 427.6,245.9 427.7,251.7 427.8,247.5 427.9,252.5 428,247.9 428.1,250.3 428.2,252.3 428.4,253.9 428.5,253.1 428.6,247.8 428.7,264.6 428.8,244.4 428.9,265.0 429,252.5 429.1,253.3 429.2,247.2 429.3,250.1 429.4,251.6 429.6,250.9 429.7,245.9 429.8,237.9 429.9,249.2 430,263.1 430.1,253.7 430.2,248.9 430.3,232.3 430.4,255.6 430.6,253.4 430.7,248.0 430.8,249.4 430.9,258.8 431,245.8 431.1,258.7 431.2,252.7 431.3,243.6 431.4,258.7 431.5,253.1 431.6,241.5 431.8,253.1 431.9,257.1 432,254.4 432.1,246.2 432.2,260.0 432.3,254.6 432.4,262.3 432.5,257.6 432.6,243.6 432.8,251.4 432.9,253.4 433,248.5 433.1,255.0 433.2,257.8 433.3,244.3 433.4,245.8 433.5,255.7 433.6,245.4 433.7,242.4 433.9,248.0 434,247.9 434.1,257.9 434.2,251.5 434.3,261.5 434.4,244.3 434.5,251.7 434.6,243.1 434.7,255.1 434.8,245.6 434.9,259.8 435.1,253.0 435.2,247.5 435.3,247.8 435.4,250.9 435.5,260.1 435.6,242.9 435.7,246.7 435.8,244.0 435.9,244.0 436.1,252.7 436.2,248.2 436.3,235.2 436.4,255.3 436.5,248.1 436.6,253.7 436.7,240.3 436.8,249.4 436.9,256.4 437,253.9 437.1,258.5 437.3,263.5 437.4,266.0 437.5,254.5 437.6,256.8 437.7,249.4 437.8,255.1 437.9,249.0 438,240.0 438.1,257.0 438.2,257.2 438.4,244.5 438.5,236.6 438.6,255.2 438.7,259.9 438.8,251.8 438.9,252.5 439,246.0 439.1,256.3 439.2,251.6 439.4,251.9 439.5,259.2 439.6,259.2 439.7,247.4 439.8,246.8 439.9,254.6 440,240.9 440.1,244.5 440.2,247.3 440.3,246.4 440.4,247.2 440.6,245.7 440.7,244.9 440.8,249.5 440.9,261.8 441,250.8 441.1,254.7 441.2,259.2 441.3,246.3 441.4,260.2 441.6,244.9 441.7,253.5 441.8,256.9 441.9,254.8 442,236.1 442.1,241.1 442.2,251.4 442.3,243.5 442.4,239.3 442.5,254.7 442.6,251.3 442.8,244.3 442.9,247.3 443,251.8 443.1,240.1 443.2,246.6 443.3,244.9 443.4,235.6 443.5,246.7 443.6,234.0 443.8,247.7 443.9,250.4 444,248.7 444.1,244.3 444.2,245.6 444.3,247.2 444.4,258.1 444.5,255.8 444.6,250.9 444.7,245.1 444.9,240.9 445,263.4 445.1,250.2 445.2,252.0 445.3,249.9 445.4,248.1 445.5,254.3 445.6,257.0 445.7,243.3 445.8,244.8 445.9,251.7 446.1,249.9 446.2,253.3 446.3,257.4 446.4,245.4 446.5,254.5 446.6,255.7 446.7,252.7 446.8,236.2 446.9,246.5 447.1,247.3 447.2,248.5 447.3,244.0 447.4,244.8 447.5,256.7 447.6,251.0 447.7,252.8 447.8,247.8 447.9,249.4 448,260.7 448.1,242.2 448.3,247.4 448.4,259.1 448.5,242.3 448.6,248.2 448.7,246.2 448.8,248.8 448.9,248.0 449,251.9 449.1,258.7 449.2,252.5 449.4,247.9 449.5,248.7 449.6,245.1 449.7,249.5 449.8,262.0 449.9,244.6 450,253.6 450.1,256.7 450.2,250.8 450.4,256.9 450.5,246.8 450.6,254.3 450.7,237.5 450.8,250.3 450.9,252.1 451,252.7 451.1,261.4 451.2,253.9 451.3,253.3 451.5,250.7 451.6,261.8 451.7,248.5 451.8,241.2 451.9,251.2 452,249.0 452.1,246.2 452.2,253.3 452.3,251.2 452.4,243.0 452.6,247.5 452.7,255.7 452.8,258.9 452.9,235.2 453,245.0 453.1,257.7 453.2,247.5 453.3,244.4 453.4,247.6 453.5,259.3 453.6,237.7 453.8,244.8 453.9,249.4 454,244.2 454.1,249.5 454.2,250.1 454.3,242.9 454.4,259.6 454.5,242.2 454.6,245.7 454.8,243.6 454.9,242.7 455,238.9 455.1,239.5 455.2,242.7 455.3,250.1 455.4,243.8 455.5,250.6 455.6,253.3 455.7,245.1 455.9,245.6 456,240.7 456.1,260.1 456.2,244.1 456.3,243.7 456.4,246.9 456.5,238.9 456.6,252.6 456.7,245.5 456.8,249.6 456.9,247.5 457.1,253.1 457.2,248.2 457.3,243.5 457.4,246.7 457.5,245.3 457.6,251.8 457.7,238.1 457.8,251.4 457.9,247.2 458.1,243.8 458.2,248.3 458.3,242.8 458.4,246.1 458.5,237.3 458.6,244.0 458.7,244.8 458.8,251.8 458.9,244.4 459,241.3 459.1,244.7 459.3,252.5 459.4,250.3 459.5,248.4 459.6,247.0 459.7,255.1 459.8,236.2 459.9,247.6 460,246.4 460.1,249.6 460.2,247.3 460.4,235.9 460.5,252.5 460.6,250.0 460.7,253.0 460.8,250.2 460.9,238.1 461,250.6 461.1,249.6 461.2,257.4 461.4,249.0 461.5,245.6 461.6,250.7 461.7,249.2 461.8,242.2 461.9,243.8 462,247.4 462.1,251.3 462.2,255.5 462.3,237.1 462.4,258.8 462.6,243.0 462.7,247.9 462.8,251.0 462.9,241.6 463,251.0 463.1,239.4 463.2,252.6 463.3,243.8 463.4,239.3 463.6,252.2 463.7,234.5 463.8,241.6 463.9,259.3 464,238.5 464.1,235.5 464.2,248.0 464.3,247.6 464.4,244.3 464.5,257.4 464.6,245.6 464.8,241.1 464.9,249.6 465,240.0 465.1,233.7 465.2,257.7 465.3,256.8 465.4,250.4 465.5,242.7 465.6,244.1 465.8,251.6 465.9,252.8 466,250.5 466.1,236.5 466.2,251.8 466.3,249.6 466.4,240.7 466.5,247.8 466.6,251.9 466.7,237.9 466.9,244.2 467,250.1 467.1,248.3 467.2,240.7 467.3,248.2 467.4,244.6 467.5,240.9 467.6,240.3 467.7,256.6 467.8,248.8 468,247.9 468.1,245.3 468.2,241.4 468.3,239.1 468.4,248.5 468.5,252.2 468.6,244.7 468.7,249.2 468.8,235.8 468.9,242.8 469.1,245.4 469.2,239.9 469.3,249.4 469.4,247.6 469.5,246.6 469.6,241.8 469.7,238.1 469.8,241.0 469.9,241.2 470,246.8 470.1,243.4 470.3,246.8 470.4,238.8 470.5,249.1 470.6,245.9 470.7,243.4 470.8,240.9 470.9,250.9 471,246.7 471.1,250.1 471.2,253.1 471.4,239.1 471.5,242.7 471.6,254.0 471.7,250.9 471.8,242.1 471.9,248.8 472,251.3 472.1,238.1 472.2,248.0 472.4,247.4 472.5,242.0 472.6,249.3 472.7,245.1 472.8,244.3 472.9,240.9 473,249.5 473.1,239.0 473.2,243.2 473.3,234.9 473.4,243.9 473.6,248.2 473.7,248.2 473.8,251.6 473.9,245.2 474,245.5 474.1,240.0 474.2,244.6 474.3,249.9 474.4,239.2 474.6,247.6 474.7,243.5 474.8,236.7 474.9,237.7 475,249.3 475.1,245.7 475.2,237.3 475.3,239.4 475.4,241.9 475.5,239.9 475.6,257.4 475.8,246.7 475.9,253.3 476,248.7 476.1,247.2 476.2,242.3 476.3,238.3 476.4,240.5 476.5,243.5 476.6,247.1 476.8,235.1 476.9,243.5 477,255.2 477.1,245.4 477.2,242.2 477.3,250.6 477.4,243.8 477.5,236.3 477.6,246.5 477.7,245.4 477.9,245.3 478,250.7 478.1,247.8 478.2,250.9 478.3,246.8 478.4,249.7 478.5,239.5 478.6,245.7 478.7,240.2 478.8,252.3 478.9,245.2 479.1,241.7 479.2,241.0 479.3,248.6 479.4,245.6 479.5,244.4 479.6,247.0 479.7,247.4 479.8,241.0 479.9,251.8 480.1,255.4 480.2,247.7 480.3,242.8 480.4,258.1 480.5,237.0 480.6,244.3 480.7,241.4 480.8,249.6 480.9,245.0 481,234.2 481.1,233.9 481.3,241.1 481.4,246.3 481.5,245.3 481.6,237.0 481.7,248.7 481.8,250.0 481.9,245.4 482,239.3 482.1,250.8 482.2,242.5 482.4,242.4 482.5,243.8 482.6,245.5 482.7,239.2 482.8,241.2 482.9,253.0 483,235.3 483.1,241.9 483.2,242.7 483.4,246.6 483.5,246.3 483.6,259.2 483.7,245.9 483.8,241.2 483.9,241.0 484,248.5 484.1,258.2 484.2,251.1 484.3,246.4 484.5,237.1 484.6,253.9 484.7,244.4 484.8,241.1 484.9,240.9 485,245.0 485.1,260.6 485.2,240.9 485.3,243.7 485.4,241.3 485.6,249.9 485.7,247.1 485.8,235.6 485.9,244.8 486,244.3 486.1,248.4 486.2,236.9 486.3,253.7 486.4,247.2 486.5,241.6 486.6,244.3 486.8,238.9 486.9,241.6 487,235.6 487.1,245.9 487.2,244.7 487.3,242.3 487.4,254.2 487.5,235.6 487.6,249.1 487.8,237.2 487.9,235.4 488,237.8 488.1,242.5 488.2,247.3 488.3,256.0 488.4,240.3 488.5,244.9 488.6,233.6 488.7,245.2 488.9,239.8 489,245.8 489.1,240.9 489.2,245.4 489.3,244.4 489.4,254.3 489.5,249.1 489.6,244.2 489.7,235.9 489.8,241.7 489.9,250.4 490.1,234.1 490.2,241.2 490.3,236.8 490.4,248.5 490.5,262.3 490.6,247.7 490.7,249.2 490.8,241.6 490.9,252.1 491.1,248.3 491.2,251.1 491.3,242.3 491.4,248.5 491.5,232.3 491.6,238.5 491.7,238.1 491.8,244.2 491.9,241.6 492,237.9 492.1,247.8 492.3,235.7 492.4,243.3 492.5,235.5 492.6,229.7 492.7,233.7 492.8,249.1 492.9,235.7 493,244.6 493.1,245.2 493.2,244.1 493.4,249.6 493.5,241.3 493.6,246.8 493.7,236.2 493.8,240.8 493.9,257.7 494,248.2 494.1,248.5 494.2,246.6 494.4,246.5 494.5,241.4 494.6,243.5 494.7,248.9 494.8,240.0 494.9,237.3 495,242.5 495.1,235.7 495.2,240.0 495.3,245.7 495.5,244.8 495.6,242.4 495.7,239.3 495.8,241.4 495.9,236.7 496,235.7 496.1,248.2 496.2,249.1 496.3,242.9 496.4,239.7 496.6,237.0 496.7,238.5 496.8,238.7 496.9,247.6 497,240.1 497.1,245.9 497.2,239.8 497.3,237.0 497.4,246.1 497.5,243.5 497.6,227.9 497.8,246.5 497.9,245.0 498,248.4 498.1,253.4 498.2,236.3 498.3,246.0 498.4,245.6 498.5,246.7 498.6,258.3 498.8,237.7 498.9,245.2 499,242.3 499.1,234.0 499.2,242.8 499.3,241.2 499.4,240.9 499.5,234.5 499.6,249.7 499.7,245.1 499.9,258.9 500,241.7 500.1,238.1 500.2,244.2 500.3,230.2 500.4,236.0 500.5,230.3 500.6,240.7 500.7,231.1 500.8,244.5 501,239.1 501.1,240.8 501.2,243.9 501.3,231.8 501.4,233.7 501.5,245.3 501.6,237.3 501.7,240.7 501.8,239.8 501.9,237.7 502.1,244.0 502.2,240.0 502.3,239.3 502.4,244.5 502.5,244.0 502.6,236.0 502.7,240.8 502.8,227.3 502.9,228.6 503,245.2 503.1,238.5 503.3,252.7 503.4,244.9 503.5,246.3 503.6,245.6 503.7,253.6 503.8,239.6 503.9,240.0 504,245.9 504.1,241.6 504.2,235.8 504.4,231.9 504.5,248.8 504.6,231.9 504.7,251.1 504.8,245.9 504.9,243.4 505,232.2 505.1,237.6 505.2,237.7 505.4,232.0 505.5,239.3 505.6,244.6 505.7,232.5 505.8,242.3 505.9,248.3 506,251.0 506.1,240.0 506.2,230.1 506.3,236.6 506.5,240.6 506.6,233.9 506.7,249.5 506.8,238.4 506.9,244.0 507,232.9 507.1,245.7 507.2,236.2 507.3,239.6 507.4,240.7 507.6,236.7 507.7,241.5 507.8,232.4 507.9,241.9 508,253.3 508.1,232.3 508.2,230.2 508.3,237.7 508.4,229.7 508.5,236.6 508.6,245.4 508.8,252.4 508.9,246.6 509,242.2 509.1,237.5 509.2,248.8 509.3,245.8 509.4,231.7 509.5,244.5 509.6,246.2 509.8,246.0 509.9,231.1 510,235.9 510.1,235.3 510.2,230.9 510.3,234.8 510.4,232.6 510.5,238.2 510.6,235.3 510.7,236.7 510.9,236.3 511,247.1 511.1,241.5 511.2,242.4 511.3,244.0 511.4,240.5 511.5,229.8 511.6,234.8 511.7,239.7 511.8,238.3 512,232.1 512.1,247.2 512.2,237.2 512.3,230.6 512.4,229.8 512.5,234.9 512.6,236.9 512.7,250.6 512.8,244.2 512.9,240.4 513,237.9 513.2,237.7 513.3,253.3 513.4,243.2 513.5,238.5 513.6,244.5 513.7,241.3 513.8,237.1 513.9,238.2 514,239.0 514.2,235.7 514.3,233.5 514.4,241.6 514.5,246.0 514.6,243.9 514.7,242.7 514.8,240.1 514.9,248.5 515,244.2 515.1,241.3 515.2,232.0 515.4,236.8 515.5,240.6 515.6,234.7 515.7,238.7 515.8,238.4 515.9,233.6 516,237.7 516.1,238.8 516.2,235.5 516.4,242.7 516.5,239.3 516.6,251.6 516.7,241.9 516.8,230.7 516.9,241.6 517,239.5 517.1,241.9 517.2,245.3 517.3,236.6 517.5,239.5 517.6,233.1 517.7,244.5 517.8,239.1 517.9,241.3 518,242.7 518.1,233.1 518.2,243.5 518.3,243.4 518.4,224.7 518.5,239.6 518.7,240.4 518.8,236.5 518.9,244.9 519,237.1 519.1,245.9 519.2,241.8 519.3,242.4 519.4,231.4 519.5,235.4 519.6,228.5 519.8,229.4 519.9,243.0 520,234.9 520.1,241.5 520.2,242.6 520.3,232.1 520.4,230.7 520.5,238.2 520.6,237.0 520.8,237.2 520.9,237.0 521,236.8 521.1,246.7 521.2,235.3 521.3,242.8 521.4,245.6 521.5,239.6 521.6,237.2 521.7,233.9 521.9,236.6 522,237.1 522.1,242.5 522.2,236.4 522.3,237.5 522.4,237.0 522.5,243.0 522.6,228.9 522.7,234.3 522.8,234.7 523,238.1 523.1,240.2 523.2,233.3 523.3,246.2 523.4,242.2 523.5,240.2 523.6,235.3 523.7,240.3 523.8,230.4 523.9,248.6 524,229.5 524.2,236.7 524.3,233.1 524.4,241.4 524.5,232.5 524.6,240.3 524.7,237.0 524.8,246.9 524.9,235.3 525,237.7 525.1,249.2 525.3,238.9 525.4,240.2 525.5,233.6 525.6,242.2 525.7,237.2 525.8,230.9 525.9,245.1 526,227.5 526.1,236.8 526.2,239.5 526.4,246.1 526.5,248.4 526.6,232.7 526.7,240.8 526.8,241.7 526.9,232.0 527,234.2 527.1,237.4 527.2,246.5 527.4,249.3 527.5,232.6 527.6,238.3 527.7,239.5 527.8,227.0 527.9,240.4 528,235.9 528.1,225.6 528.2,234.4 528.3,241.1 528.5,242.8 528.6,228.4 528.7,245.0 528.8,233.0 528.9,228.5 529,238.4 529.1,233.0 529.2,237.3 529.3,229.6 529.4,236.1 529.5,241.7 529.7,235.6 529.8,236.8 529.9,241.2 530,239.0 530.1,244.5 530.2,242.4 530.3,233.9 530.4,248.2 530.5,235.9 530.6,237.5 530.8,240.9 530.9,229.4 531,233.5 531.1,240.9 531.2,236.3 531.3,232.2 531.4,246.5 531.5,236.2 531.6,238.8 531.8,235.1 531.9,225.2 532,241.1 532.1,240.0 532.2,244.2 532.3,236.0 532.4,233.7 532.5,251.4 532.6,228.8 532.7,224.8 532.9,252.6 533,245.9 533.1,234.5 533.2,236.4 533.3,230.4 533.4,238.7 533.5,227.0 533.6,244.9 533.7,234.6 533.8,239.5 534,239.7 534.1,247.1 534.2,239.3 534.3,229.0 534.4,240.6 534.5,238.2 534.6,236.1 534.7,242.4 534.8,235.3 534.9,233.5 535,238.1 535.2,247.4 535.3,227.9 535.4,236.4 535.5,236.8 535.6,237.9 535.7,240.0 535.8,246.2 535.9,236.9 536,235.7 536.1,230.9 536.3,227.1 536.4,240.7 536.5,227.2 536.6,235.7 536.7,233.1 536.8,242.3 536.9,234.4 537,241.8 537.1,232.5 537.2,243.6 537.4,236.1 537.5,238.8 537.6,234.3 537.7,234.9 537.8,235.4 537.9,239.2 538,231.3 538.1,232.9 538.2,240.7 538.4,231.9 538.5,239.9 538.6,235.6 538.7,236.7 538.8,236.7 538.9,229.7 539,246.4 539.1,228.7 539.2,246.2 539.3,228.8 539.5,232.7 539.6,244.5 539.7,233.8 539.8,237.7 539.9,242.6 540,228.8 540.1,229.3 540.2,233.5 540.3,226.0 540.4,234.8 540.5,237.2 540.7,228.0 540.8,239.8 540.9,230.9 541,229.1 541.1,234.2 541.2,234.8 541.3,232.6 541.4,234.0 541.5,239.4 541.6,256.1 541.8,238.3 541.9,243.8 542,229.7 542.1,237.9 542.2,233.9 542.3,230.9 542.4,229.3 542.5,240.6 542.6,222.7 542.8,229.8 542.9,231.4 543,240.4 543.1,223.4 543.2,231.3 543.3,228.6 543.4,236.8 543.5,224.0 543.6,226.5 543.7,235.6 543.9,223.4 544,241.1 544.1,229.9 544.2,231.2 544.3,231.0 544.4,239.1 544.5,237.1 544.6,229.5 544.7,228.9 544.8,235.4 545,236.6 545.1,238.1 545.2,227.4 545.3,236.2 545.4,238.3 545.5,246.2 545.6,245.6 545.7,241.8 545.8,251.2 545.9,238.5 546,237.1 546.2,241.2 546.3,237.8 546.4,235.9 546.5,245.6 546.6,231.3 546.7,251.4 546.8,224.0 546.9,243.9 547,235.2 547.1,237.4 547.3,233.1 547.4,239.7 547.5,232.2 547.6,244.4 547.7,230.9 547.8,236.9 547.9,233.1 548,229.3 548.1,242.1 548.2,238.7 548.4,239.6 548.5,235.8 548.6,234.2 548.7,230.9 548.8,233.9 548.9,236.0 549,230.8 549.1,229.1 549.2,229.5 549.4,222.9 549.5,238.7 549.6,233.7 549.7,242.8 549.8,239.0 549.9,231.4 550,227.7 550.1,237.8 550.2,232.2 550.3,234.4 550.5,231.9 550.6,233.6 550.7,237.6 550.8,247.8 550.9,243.5 551,232.6 551.1,235.3 551.2,222.7 551.3,234.5 551.4,229.4 551.5,241.5 551.7,242.8 551.8,233.5 551.9,225.0 552,232.3 552.1,236.5 552.2,232.3 552.3,231.0 552.4,231.1 552.5,234.4 552.7,240.7 552.8,241.1 552.9,237.5 553,235.3 553.1,242.1 553.2,225.3 553.3,231.0 553.4,237.5 553.5,230.0 553.6,220.4 553.8,233.0 553.9,233.1 554,228.4 554.1,244.9 554.2,237.6 554.3,238.7 554.4,229.9 554.5,244.0 554.6,232.4 554.7,237.0 554.9,235.9 555,237.4 555.1,225.7 555.2,239.2 555.3,243.5 555.4,232.4 555.5,238.7 555.6,231.2 555.7,234.5 555.8,233.9 556,233.8 556.1,243.8 556.2,245.7 556.3,222.5 556.4,240.8 556.5,231.1 556.6,240.5 556.7,234.5 556.8,235.5 556.9,222.7 557,235.2 557.2,242.8 557.3,242.1 557.4,232.2 557.5,228.9 557.6,222.4 557.7,221.7 557.8,242.1 557.9,234.6 558,240.9 558.1,232.2 558.3,227.6 558.4,244.3 558.5,228.9 558.6,228.2 558.7,235.8 558.8,237.2 558.9,224.2 559,234.6 559.1,240.0 559.2,233.1 559.4,227.7 559.5,229.7 559.6,244.9 559.7,241.5 559.8,236.0 559.9,232.8 560,232.5 560.1,240.8 560.2,228.3 560.4,230.8 560.5,242.6 560.6,239.1 560.7,234.2 560.8,242.2 560.9,233.3 561,232.5 561.1,236.0 561.2,230.1 561.3,223.0 561.5,238.5 561.6,230.6 561.7,235.9 561.8,224.5 561.9,226.1 562,233.3 562.1,236.8 562.2,228.8 562.3,233.6 562.4,242.8 562.5,239.0 562.7,234.1 562.8,220.7 562.9,226.9 563,225.2 563.1,227.7 563.2,225.2 563.3,221.4 563.4,239.4 563.5,229.6 563.6,229.4 563.8,230.2 563.9,230.6 564,247.5 564.1,231.9 564.2,240.8 564.3,227.5 564.4,235.9 564.5,234.5 564.6,233.3 564.8,244.7 564.9,233.9 565,240.2 565.1,227.4 565.2,235.9 565.3,239.4 565.4,225.7 565.5,234.6 565.6,238.4 565.7,233.4 565.9,233.9 566,231.4 566.1,238.5 566.2,226.6 566.3,230.9 566.4,223.4 566.5,228.3 566.6,238.3 566.7,226.6 566.8,234.1 567,232.0 567.1,246.7 567.2,239.8 567.3,224.7 567.4,226.2 567.5,242.6 567.6,230.6 567.7,230.5 567.8,225.3 567.9,238.7 568,242.4 568.2,230.7 568.3,236.2 568.4,235.8 568.5,237.5 568.6,225.2 568.7,237.3 568.8,226.8 568.9,228.8 569,236.0 569.1,226.6 569.3,225.0 569.4,230.2 569.5,233.5 569.6,227.8 569.7,236.4 569.8,229.3 569.9,223.3 570,239.8 570.1,246.1 570.2,227.9 570.4,237.1 570.5,235.6 570.6,231.2 570.7,235.6 570.8,231.3 570.9,237.6 571,235.0 571.1,232.5 571.2,228.8 571.4,234.3 571.5,230.0 571.6,228.4 571.7,229.0 571.8,232.5 571.9,224.4 572,236.3 572.1,225.8 572.2,226.1 572.3,226.7 572.5,234.7 572.6,226.2 572.7,228.0 572.8,238.1 572.9,233.5 573,239.2 573.1,229.5 573.2,223.7 573.3,226.5 573.4,237.5 573.5,237.6 573.7,233.0 573.8,232.8 573.9,227.7 574,233.9 574.1,225.6 574.2,235.1 574.3,226.2 574.4,240.5 574.5,235.4 574.6,232.0 574.8,227.5 574.9,229.3 575,237.3 575.1,239.9 575.2,232.6 575.3,233.0 575.4,234.8 575.5,232.7 575.6,240.2 575.8,229.7 575.9,227.0 576,237.8 576.1,237.7 576.2,225.8 576.3,226.7 576.4,237.4 576.5,236.8 576.6,243.0 576.7,230.2 576.9,231.9 577,233.0 577.1,220.2 577.2,234.2 577.3,233.9 577.4,231.8 577.5,234.4 577.6,227.0 577.7,234.3 577.8,232.7 578,220.6 578.1,236.8 578.2,240.4 578.3,232.7 578.4,237.1 578.5,237.3 578.6,232.4 578.7,228.9 578.8,242.6 578.9,235.0 579,245.9 579.2,228.7 579.3,239.9 579.4,230.4 579.5,223.9 579.6,223.7 579.7,231.0 579.8,245.7 579.9,219.7 580,236.8 580.1,228.3 580.3,237.4 580.4,235.9 580.5,225.4 580.6,244.2 580.7,241.8 580.8,236.4 580.9,228.7 581,249.2 581.1,227.7 581.2,237.3 581.4,231.0 581.5,220.0 581.6,232.1 581.7,228.8 581.8,227.2 581.9,236.9 582,234.4 582.1,236.2 582.2,234.0 582.4,237.1 582.5,238.4 582.6,238.9 582.7,231.1 582.8,243.1 582.9,234.9 583,227.7 583.1,243.6 583.2,245.8 583.3,230.5 583.5,242.0 583.6,240.0 583.7,232.2 583.8,234.1 583.9,239.9 584,237.9 584.1,244.5 584.2,239.4 584.3,236.6 584.4,233.0 584.5,232.8 584.7,226.3 584.8,236.7 584.9,230.6 585,234.8 585.1,242.0 585.2,234.6 585.3,234.5 585.4,232.7 585.5,233.7 585.7,235.9 585.8,241.8 585.9,238.5 586,235.1 586.1,233.1 586.2,232.2 586.3,234.8 586.4,233.3 586.5,228.7 586.6,235.8 586.8,240.1 586.9,245.2 587,236.9 587.1,233.6 587.2,239.4 587.3,228.8 587.4,242.3 587.5,239.5 587.6,237.7 587.7,244.6 587.9,231.8 588,241.9 588.1,244.4 588.2,248.2 588.3,232.5 588.4,230.5 588.5,243.7 588.6,246.1 588.7,240.6 588.8,238.1 589,241.2 589.1,235.4 589.2,244.3 589.3,226.4 589.4,236.2 589.5,232.5 589.6,240.6 589.7,232.8 589.8,228.8 589.9,242.5 590,237.7 590.2,230.7 590.3,236.1 590.4,243.3 590.5,241.2 590.6,235.2 590.7,236.7 590.8,242.5 590.9,236.8 591,251.5 591.1,238.4 591.3,233.3 591.4,233.5 591.5,241.4 591.6,237.5 591.7,237.7 591.8,239.7 591.9,243.8 592,247.5 592.1,242.8 592.2,246.6 592.4,251.8 592.5,233.0 592.6,248.4 592.7,244.0 592.8,244.1 592.9,250.6 593,238.8 593.1,250.7 593.2,230.9 593.4,249.1 593.5,245.8 593.6,242.2 593.7,242.1 593.8,241.4 593.9,234.9 594,233.4 594.1,227.3 594.2,247.0 594.3,233.9 594.5,235.9 594.6,241.5 594.7,247.4 594.8,225.9 594.9,232.8 595,250.1 595.1,231.1 595.2,237.1 595.3,238.5 595.4,235.3 595.5,243.5 595.7,240.8 595.8,234.6 595.9,246.8 596,248.1 596.1,253.4 596.2,236.0 596.3,246.5 596.4,242.5 596.5,243.4 596.6,235.9 596.8,238.6 596.9,245.4 597,232.6 597.1,238.3 597.2,238.9 597.3,243.4 597.4,242.9 597.5,242.5 597.6,241.0 597.8,238.6 597.9,238.7 598,242.7 598.1,242.0 598.2,237.2 598.3,234.4 598.4,234.2 598.5,241.6 598.6,248.8 598.7,240.6 598.9,240.6 599,241.1 599.1,238.7 599.2,244.6 599.3,241.1 599.4,255.2 599.5,231.6 599.6,241.7 599.7,243.8 599.8,239.0 600,243.5 600.1,246.3 600.2,237.3 600.3,241.8 600.4,246.1 600.5,238.3 600.6,239.7 600.7,240.2 600.8,244.1 600.9,236.2 601,247.7 601.2,237.7 601.3,230.7 601.4,247.9 601.5,241.3 601.6,256.7 601.7,242.6 601.8,252.7 601.9,250.6 602,241.4 602.1,236.7 602.3,240.1 602.4,244.3 602.5,247.6 602.6,243.0 602.7,229.3 602.8,235.0 602.9,251.0 603,247.4 603.1,251.7 603.2,240.2 603.4,245.1 603.5,252.4 603.6,244.6 603.7,246.4 603.8,249.8 603.9,245.7 604,238.7 604.1,249.2 604.2,245.9 604.4,252.1 604.5,246.3 604.6,236.0 604.7,240.8 604.8,248.1 604.9,247.5 605,236.8 605.1,244.9 605.2,247.1 605.3,237.5 605.5,246.5 605.6,248.3 605.7,240.9 605.8,251.7 605.9,246.7 606,248.7 606.1,243.4 606.2,244.9 606.3,233.7 606.4,240.3 606.5,244.1 606.7,241.0 606.8,245.6 606.9,242.8 607,241.0 607.1,241.7 607.2,236.3 607.3,241.2 607.4,248.6 607.5,242.3 607.6,251.1 607.8,233.0 607.9,255.5 608,245.4 608.1,241.9 608.2,250.2 608.3,247.3 608.4,239.0 608.5,254.4 608.6,239.7 608.8,246.4 608.9,247.2 609,233.8 609.1,240.8 609.2,243.0 609.3,246.8 609.4,244.3 609.5,246.4 609.6,234.9 609.7,244.3 609.9,249.7 610,249.3 610.1,243.3 610.2,252.0 610.3,250.0 610.4,255.0 610.5,259.1 610.6,232.7 610.7,247.1 610.8,235.6 611,242.6 611.1,244.2 611.2,252.3 611.3,246.2 611.4,245.0 611.5,251.2 611.6,242.0 611.7,239.0 611.8,243.4 611.9,244.9 612,256.1 612.2,230.2 612.3,241.9 612.4,253.1 612.5,253.0 612.6,250.3 612.7,254.0 612.8,246.3 612.9,251.5 613,245.4 613.2,249.3 613.3,248.2 613.4,253.6 613.5,245.8 613.6,245.3 613.7,251.6 613.8,256.5 613.9,246.6 614,257.4 614.1,251.7 614.2,244.5 614.4,240.0 614.5,248.9 614.6,245.4 614.7,239.9 614.8,253.5 614.9,250.0 615,245.9 615.1,239.9 615.2,256.8 615.4,254.7 615.5,240.1 615.6,240.8 615.7,251.5 615.8,247.6 615.9,242.4 616,249.3 616.1,259.1 616.2,246.9 616.3,242.7 616.5,255.6 616.6,240.8 616.7,250.2 616.8,258.8 616.9,247.3 617,257.4 617.1,240.7 617.2,244.8 617.3,238.3 617.4,258.4 617.5,248.0 617.7,240.4 617.8,241.9 617.9,245.2 618,246.8 618.1,245.2 618.2,243.1 618.3,238.6 618.4,259.3 618.5,255.0 618.7,252.6 618.8,248.1 618.9,247.0 619,251.4 619.1,249.8 619.2,245.0 619.3,242.5 619.4,254.1 619.5,251.1 619.6,249.3 619.8,235.2 619.9,253.5 620,247.9 620.1,249.5 620.2,252.3 620.3,242.5 620.4,250.4 620.5,252.8 620.6,249.6 620.7,248.5 620.9,253.8 621,254.5 621.1,243.7 621.2,253.7 621.3,245.0 621.4,251.4 621.5,255.4 621.6,257.2 621.7,260.5 621.8,246.8 622,247.1 622.1,253.3 622.2,257.2 622.3,254.2 622.4,250.3 622.5,243.9 622.6,255.0 622.7,261.1 622.8,250.1 622.9,253.6 623,256.4 623.2,262.4 623.3,248.3 623.4,243.5 623.5,257.7 623.6,260.5 623.7,255.1 623.8,253.8 623.9,249.0 624,251.6 624.2,262.1 624.3,250.7 624.4,250.6 624.5,256.9 624.6,250.7 624.7,260.4 624.8,254.6 624.9,260.5 625,252.7 625.1,248.3 625.2,264.1 625.4,252.6 625.5,248.6 625.6,251.4 625.7,243.6 625.8,253.7 625.9,240.4 626,252.4 626.1,260.0 626.2,253.8 626.4,256.9 626.5,243.8 626.6,243.6 626.7,243.1 626.8,247.2 626.9,253.8 627,257.8 627.1,259.6 627.2,249.2 627.3,260.4 627.5,254.7 627.6,251.9 627.7,250.0 627.8,261.4 627.9,260.6 628,260.2 628.1,248.5 628.2,260.1 628.3,258.8 628.4,250.1 628.5,248.2 628.7,242.6 628.8,253.7 628.9,248.2 629,263.9 629.1,250.0 629.2,248.6 629.3,248.0 629.4,256.4 629.5,245.4 629.6,244.2 629.8,253.6 629.9,253.3 630,255.7 630.1,255.5 630.2,253.8 630.3,261.3 630.4,261.8 630.5,255.6 630.6,257.1 630.8,248.5 630.9,255.4 631,259.8 631.1,264.6 631.2,256.2 631.3,260.5 631.4,264.8 631.5,243.3 631.6,265.6 631.7,244.8 631.9,236.6 632,253.8 632.1,258.0 632.2,250.6 632.3,259.7 632.4,253.4 632.5,250.1 632.6,261.9 632.7,245.7 632.8,254.2 633,253.0 633.1,247.1 633.2,262.9 633.3,262.1 633.4,253.2 633.5,252.7 633.6,256.4 633.7,255.6 633.8,256.5 633.9,260.7 634,262.8 634.2,259.5 634.3,254.6 634.4,252.8 634.5,262.7 634.6,245.4 634.7,241.9 634.8,254.3 634.9,260.2 635,256.7 635.2,251.1 635.3,256.3 635.4,244.8 635.5,257.5 635.6,250.4 635.7,253.2 635.8,242.9 635.9,253.6 636,253.2 636.1,261.0 636.2,257.6 636.4,263.8 636.5,237.5 636.6,255.9 636.7,257.4 636.8,256.1 636.9,254.0 637,253.1 637.1,266.6 637.2,249.0 637.4,256.0 637.5,256.8 637.6,246.1 637.7,255.0 637.8,261.2 637.9,261.6 638,252.1 638.1,256.4 638.2,255.6 638.3,264.3 638.5,255.9 638.6,262.1 638.7,261.6 638.8,249.5 638.9,255.4 639,258.7 639.1,249.3 639.2,242.4 639.3,266.0 639.4,251.8 639.5,255.8 639.7,257.8 639.8,249.2 639.9,252.5 640,260.1 640.1,250.2 640.2,258.6 640.3,257.6 640.4,265.3 640.5,257.4 640.7,254.2 640.8,259.7 640.9,257.5 641,250.4 641.1,258.8 641.2,261.6 641.3,248.1 641.4,262.2 641.5,272.0 641.6,265.6 641.8,259.7 641.9,265.3 642,264.9 642.1,261.2 642.2,259.4 642.3,259.9 642.4,258.5 642.5,252.2 642.6,239.4 642.7,251.7 642.9,254.7 643,262.6 643.1,257.9 643.2,264.9 643.3,258.9 643.4,265.1 643.5,252.6 643.6,246.7 643.7,253.3 643.8,243.5 644,265.5 644.1,253.9 644.2,259.7 644.3,258.1 644.4,265.4 644.5,259.5 644.6,259.8 644.7,263.4 644.8,252.7 644.9,255.0 645,252.5 645.2,262.5 645.3,263.3 645.4,266.3 645.5,254.8 645.6,254.0 645.7,259.9 645.8,263.9 645.9,259.2 646,257.0 646.2,256.8 646.3,261.4 646.4,253.4 646.5,252.5 646.6,265.2 646.7,258.2 646.8,259.6 646.9,267.6 647,263.4 647.1,258.7 647.2,250.8 647.4,265.8 647.5,262.6 647.6,261.6 647.7,262.9 647.8,268.8 647.9,255.7 648,261.9 648.1,258.0 648.2,256.7 648.4,263.2 648.5,266.4 648.6,264.8 648.7,263.8 648.8,265.7 648.9,262.7 649,269.2 649.1,263.7 649.2,264.6 649.3,259.7 649.5,258.3 649.6,250.7 649.7,254.3 649.8,257.2 649.9,261.2 650,260.8 650.1,259.1 650.2,262.6 650.3,261.1 650.4,266.3 650.5,259.2 650.7,266.6 650.8,264.2 650.9,264.6 651,246.8 651.1,260.9 651.2,256.0 651.3,268.8 651.4,258.3 651.5,263.4 651.7,256.4 651.8,264.0 651.9,268.4 652,257.5 652.1,261.7 652.2,269.5 652.3,262.6 652.4,267.5 652.5,258.1 652.6,261.6 652.8,260.1 652.9,267.7 653,254.5 653.1,265.6 653.2,260.6 653.3,263.7 653.4,261.6 653.5,269.5 653.6,262.0 653.7,260.2 653.9,269.9 654,256.7 654.1,268.4 654.2,265.9 654.3,266.4 654.4,256.1 654.5,265.8 654.6,265.4 654.7,261.0 654.8,262.1 655,256.4 655.1,265.5 655.2,266.6 655.3,267.7 655.4,267.8 655.5,259.1 655.6,260.4 655.7,265.3 655.8,264.2 655.9,276.2 656,258.7 656.2,260.9 656.3,275.8 656.4,266.8 656.5,264.2 656.6,255.4 656.7,262.3 656.8,256.6 656.9,254.7 657,259.7 657.2,269.4 657.3,271.6 657.4,265.7 657.5,259.6 657.6,261.6 657.7,271.6 657.8,260.0 657.9,269.3 658,266.4 658.1,258.4 658.2,263.6 658.4,267.4 658.5,268.8 658.6,264.0 658.7,262.9 658.8,265.4 658.9,269.0 659,261.9 659.1,259.7 659.2,271.1 659.4,261.0 659.5,268.3 659.6,266.2 659.7,259.3 659.8,271.9 659.9,265.6 660,255.2 660.1,256.6 660.2,268.2 660.3,271.3 660.5,255.0 660.6,263.7 660.7,263.6 660.8,274.1 660.9,264.7 661,274.1 661.1,266.9 661.2,254.8 661.3,258.2 661.4,256.3 661.5,265.2 661.7,263.3 661.8,267.8 661.9,254.0 662,268.6 662.1,276.6 662.2,268.4 662.3,259.7 662.4,268.9 662.5,264.8 662.7,274.2 662.8,269.9 662.9,273.7 663,272.7 663.1,268.2 663.2,263.0 663.3,255.3 663.4,263.2 663.5,272.8 663.6,272.9 663.8,275.4 663.9,267.5 664,272.4 664.1,268.6 664.2,273.4 664.3,257.9 664.4,268.7 664.5,262.7 664.6,268.7 664.7,253.9 664.9,275.3 665,263.9 665.1,259.0 665.2,267.1 665.3,261.3 665.4,267.2 665.5,260.3 665.6,267.0 665.7,256.8 665.8,275.9 666,262.4 666.1,269.8 666.2,269.4 666.3,263.7 666.4,270.7 666.5,271.0 666.6,263.8 666.7,273.7 666.8,268.7 666.9,258.9 667,272.1 667.2,260.4 667.3,273.7 667.4,266.1 667.5,267.1 667.6,275.8 667.7,263.3 667.8,276.1 667.9,259.8 668,259.1 668.2,271.7 668.3,267.7 668.4,269.2 668.5,276.6 668.6,273.2 668.7,268.7 668.8,268.4 668.9,261.2 669,271.2 669.1,271.7 669.2,264.6 669.4,264.1 669.5,270.0 669.6,267.4 669.7,272.1 669.8,269.7 669.9,281.1 670,279.1 670.1,263.9 670.2,272.7 670.4,275.3 670.5,266.1 670.6,257.0 670.7,263.0 670.8,266.6 670.9,269.0 671,258.4 671.1,258.9 671.2,267.6 671.3,271.0 671.5,268.4 671.6,265.9 671.7,270.0 671.8,272.1 671.9,272.7 672,277.8 672.1,271.2 672.2,267.9 672.3,277.3 672.4,274.8 672.5,264.2 672.7,274.6 672.8,267.8 672.9,276.5 673,281.5 673.1,268.2 673.2,266.8 673.3,269.1 673.4,270.8 673.5,262.2 673.7,272.4 673.8,275.3 673.9,269.3 674,264.8 674.1,268.9 674.2,265.0 674.3,262.1 674.4,275.5 674.5,271.8 674.6,273.1 674.8,267.8 674.9,283.8 675,265.7 675.1,279.3 675.2,269.2 675.3,273.3 675.4,274.1 675.5,268.4 675.6,278.7 675.7,268.3 675.9,273.6 676,279.6 676.1,266.1 676.2,278.9 676.3,268.4 676.4,274.3 676.5,274.1 676.6,264.2 676.7,270.4 676.8,273.4 677,267.1 677.1,274.9 677.2,263.2 677.3,275.8 677.4,269.3 677.5,276.8 677.6,268.4 677.7,277.5 677.8,273.1 677.9,268.5 678.1,280.1 678.2,273.8 678.3,270.5 678.4,276.7 678.5,274.9 678.6,269.0 678.7,268.1 678.8,282.1 678.9,278.2 679,288.2 679.2,273.6 679.3,269.9 679.4,278.5 679.5,280.5 679.6,271.2 679.7,276.7 679.8,262.0 679.9,265.4 680,284.5 680.1,270.0 680.2,270.2 680.4,269.9 680.5,274.2 680.6,282.4 680.7,273.5 680.8,277.2 680.9,264.0 681,270.9 681.1,264.7 681.2,282.7 681.3,274.4 681.5,275.8 681.6,279.6 681.7,277.3 681.8,283.6 681.9,274.2 682,280.1 682.1,274.3 682.2,272.9 682.3,276.7 682.5,279.4 682.6,270.7 682.7,270.8 682.8,278.3 682.9,269.5 683,290.6 683.1,274.7 683.2,272.9 683.3,275.8 683.4,288.9 683.5,275.7 683.7,270.3 683.8,274.0 683.9,286.2 684,275.3 684.1,262.5 684.2,268.4 684.3,267.1 684.4,276.0 684.5,271.3 684.6,275.7 684.8,276.1 684.9,281.7 685,275.5 685.1,269.8 685.2,274.9 685.3,286.2 685.4,272.4 685.5,282.1 685.6,272.8 685.8,280.4 685.9,266.9 686,277.1 686.1,270.0 686.2,284.1 686.3,277.1 686.4,275.3 686.5,284.2 686.6,279.5 686.7,279.3 686.8,275.7 687,276.0 687.1,285.9 687.2,269.7 687.3,272.9 687.4,280.0 687.5,271.0 687.6,277.9 687.7,279.9 687.8,287.2 688,291.7 688.1,275.1 688.2,270.3 688.3,273.3 688.4,273.3 688.5,265.7 688.6,285.3 688.7,272.8 688.8,265.4 688.9,277.7 689,265.8 689.2,278.6 689.3,280.1 689.4,287.8 689.5,273.6 689.6,272.1 689.7,273.5 689.8,275.6 689.9,272.7 690,278.0 690.1,286.8 690.3,275.3 690.4,273.8 690.5,261.4 690.6,279.7 690.7,276.0 690.8,287.3 690.9,287.5 691,284.0 691.1,269.0 691.2,276.7 691.4,277.2 691.5,280.6 691.6,276.3 691.7,272.7 691.8,274.4 691.9,278.3 692,276.8 692.1,275.7 692.2,274.0 692.4,275.9 692.5,280.2 692.6,286.1 692.7,277.5 692.8,278.2 692.9,278.9 693,280.9 693.1,285.1 693.2,272.5 693.3,282.5 693.5,279.2 693.6,281.6 693.7,286.3 693.8,275.1 693.9,291.2 694,279.3 694.1,281.7 694.2,279.2 694.3,285.1 694.4,273.6 694.5,272.0 694.7,275.5 694.8,282.4 694.9,287.2 695,268.0 695.1,290.9 695.2,286.7 695.3,277.8 695.4,276.9 695.5,289.1 695.6,277.2 695.8,288.0 695.9,275.9 696,277.7 696.1,280.1 696.2,273.9 696.3,278.2 696.4,293.5 696.5,274.0 696.6,278.5 696.8,274.6 696.9,281.5 697,275.8 697.1,282.1 697.2,277.7 697.3,275.1 697.4,283.4 697.5,283.9 697.6,280.0 697.7,275.8 697.9,278.2 698,279.4 698.1,276.5 698.2,278.3 698.3,286.4 698.4,272.9 698.5,273.3 698.6,274.6 698.7,290.4 698.8,273.7 699,287.0 699.1,280.8 699.2,282.0 699.3,268.2 699.4,275.4 699.5,281.1 699.6,278.4 699.7,284.6 699.8,287.3 699.9,277.5 700,276.9 700.2,281.1 700.3,272.4 700.4,271.0 700.5,283.8 700.6,279.8 700.7,278.5 700.8,292.2 700.9,274.8 701,275.7 701.1,279.2 701.3,281.5 701.4,283.6 701.5,273.6 701.6,285.0 701.7,279.2 701.8,282.1 701.9,274.2 702,273.3 702.1,280.9 702.2,281.7 702.4,288.7 702.5,287.9 702.6,280.0 702.7,279.6 702.8,282.0 702.9,289.1 703,287.8 703.1,298.9 703.2,283.6 703.4,297.3 703.5,294.1 703.6,288.9 703.7,277.9 703.8,290.4 703.9,279.1 704,272.8 704.1,279.9 704.2,279.8 704.3,290.9 704.5,286.0 704.6,293.7 704.7,280.7 704.8,281.2 704.9,276.2 705,284.0 705.1,282.5 705.2,289.3 705.3,282.0 705.4,277.5 705.5,281.6 705.7,279.8 705.8,283.9 705.9,281.6 706,283.7 706.1,291.2 706.2,284.8 706.3,280.2 706.4,282.5 706.5,285.1 706.7,289.5 706.8,281.6 706.9,287.6 707,285.8 707.1,281.0 707.2,278.6 707.3,288.0 707.4,287.0 707.5,280.5 707.6,286.5 707.8,275.1 707.9,279.4 708,284.5 708.1,291.2 708.2,280.3 708.3,284.0 708.4,293.7 708.5,290.3 708.6,286.3 708.7,281.6 708.9,296.7 709,286.3 709.1,284.9 709.2,273.1 709.3,284.3 709.4,284.6 709.5,286.1 709.6,284.1 709.7,282.6 709.8,287.3 710,283.4 710.1,271.9 710.2,287.6 710.3,282.7 710.4,275.4 710.5,290.6 710.6,286.5 710.7,291.5 710.8,281.6 710.9,280.1 711,283.9 711.2,286.7 711.3,287.0 711.4,285.5 711.5,280.2 711.6,283.7 711.7,278.1 711.8,275.2 711.9,288.3 712,277.1 712.2,279.2 712.3,287.0 712.4,300.0 712.5,292.4 712.6,282.7 712.7,297.6 712.8,279.5 712.9,292.0 713,285.7 713.1,291.1 713.2,289.7 713.4,286.2 713.5,294.4 713.6,289.0 713.7,290.7 713.8,283.5 713.9,293.5 714,276.0 714.1,278.0 714.2,294.8 714.4,295.2 714.5,291.0 714.6,286.1 714.7,284.6 714.8,284.3 714.9,283.3 715,288.5 715.1,294.9 715.2,293.6 715.3,290.5 715.5,294.5 715.6,274.8 715.7,290.9 715.8,281.4 715.9,284.1 716,293.2 716.1,298.9 716.2,290.4 716.3,286.8 716.4,290.6 716.5,282.5 716.7,292.3 716.8,292.4 716.9,287.2 717,277.5 717.1,284.2 717.2,278.4 717.3,291.3 717.4,282.6 717.5,286.1 717.7,274.8 717.8,290.9 717.9,287.4 718,293.5 718.1,295.3 718.2,284.4 718.3,285.6 718.4,294.2 718.5,283.2 718.6,289.3 718.8,288.5 718.9,277.9 719,284.1 719.1,282.1 719.2,279.7 719.3,286.6 719.4,290.1 719.5,280.1 719.6,278.7 719.7,297.0 719.9,293.5 720,293.2 720.1,293.3 720.2,281.3 720.3,290.4 720.4,290.1 720.5,287.4 720.6,285.4 720.7,288.8 720.8,286.7 721,296.8 721.1,287.7 721.2,293.7 721.3,289.4 721.4,281.8 721.5,287.1 721.6,289.8 721.7,282.0 721.8,279.3 721.9,286.2 722,293.7 722.2,281.3 722.3,289.4 722.4,295.1 722.5,287.2 722.6,294.0 722.7,293.8 722.8,297.3 722.9,296.7 723,287.3 723.2,305.6 723.3,288.1 723.4,286.8 723.5,287.6 723.6,292.0 723.7,298.6 723.8,292.1 723.9,288.3 724,284.3 724.1,291.4 724.2,303.2 724.4,296.4 724.5,298.6 724.6,288.8 724.7,290.4 724.8,291.9 724.9,294.0 725,303.2 725.1,294.6 725.2,287.1 725.4,298.9 725.5,298.2 725.6,301.2 725.7,295.9 725.8,291.6 725.9,303.9 726,291.4 726.1,299.3 726.2,280.9 726.3,295.6 726.5,291.5 726.6,303.6 726.7,288.2 726.8,293.1 726.9,295.9 727,285.3 727.1,294.3 727.2,295.9 727.3,285.4 727.4,296.3 727.5,290.2 727.7,297.4 727.8,300.0 727.9,285.0 728,291.7 728.1,287.9 728.2,288.4 728.3,293.3 728.4,291.1 728.5,296.6 728.7,296.7 728.8,291.8 728.9,305.8 729,294.5 729.1,299.9 729.2,294.4 729.3,300.6 729.4,287.0 729.5,290.7 729.6,298.3 729.8,290.7 729.9,305.7 730,302.9 730.1,291.3 730.2,281.7 730.3,294.9 730.4,290.3 730.5,293.4 730.6,285.3 730.7,297.7 730.9,303.8 731,299.3 731.1,294.4 731.2,291.6 731.3,300.1 731.4,288.6 731.5,303.8 731.6,293.8 731.7,301.0 731.8,297.6 732,298.6 732.1,289.1 732.2,286.2 732.3,308.0 732.4,297.5 732.5,293.7 732.6,300.6 732.7,296.4 732.8,296.1 732.9,291.2 733,301.8 733.2,291.2 733.3,296.9 733.4,295.5 733.5,299.5 733.6,296.5 733.7,295.3 733.8,281.4 733.9,290.3 734,293.6 734.2,295.2 734.3,300.4 734.4,289.7 734.5,302.8 734.6,300.3 734.7,291.2 734.8,299.6 734.9,301.7 735,280.8 735.1,304.1 735.2,298.4 735.4,304.1 735.5,295.6 735.6,290.6 735.7,281.7 735.8,289.1 735.9,293.3 736,296.6 736.1,289.9 736.2,297.0 736.4,293.1 736.5,304.6 736.6,293.4 736.7,304.4 736.8,298.7 736.9,307.1 737,304.0 737.1,288.3 737.2,295.3 737.3,302.6 737.5,290.1 737.6,308.9 737.7,297.8 737.8,304.5 737.9,294.0 738,292.5 738.1,299.2 738.2,299.7 738.3,301.4 738.4,291.8 738.5,296.3 738.7,286.4 738.8,295.8 738.9,296.7 739,303.6 739.1,303.8 739.2,293.9 739.3,299.6 739.4,292.0 739.5,294.4 739.7,301.4 739.8,300.4 739.9,291.9 740,292.9 740.1,293.0 740.2,303.1 740.3,297.0 740.4,302.7 740.5,285.0 740.6,300.0 740.8,298.3 740.9,299.9 741,303.3 741.1,295.3 741.2,301.7 741.3,297.9 741.4,295.6 741.5,298.4 741.6,300.8 741.7,294.9 741.9,298.7 742,308.2 742.1,312.0 742.2,306.4 742.3,298.8 742.4,292.3 742.5,303.4 742.6,299.1 742.7,306.1 742.8,295.4 743,289.8 743.1,305.1 743.2,299.9 743.3,288.1 743.4,302.7 743.5,304.9 743.6,300.0 743.7,298.2 743.8,301.5 743.9,300.4 744.1,293.8 744.2,305.5 744.3,293.7 744.4,303.8 744.5,294.9 744.6,293.2 744.7,299.8 744.8,303.1 744.9,309.3 745,308.6 745.2,296.6 745.3,310.6 745.4,300.9 745.5,303.2 745.6,295.3 745.7,304.1 745.8,290.9 745.9,301.9 746,289.2 746.1,303.2 746.2,303.5 746.4,306.9 746.5,294.5 746.6,303.8 746.7,295.7 746.8,303.7 746.9,309.3 747,293.6 747.1,294.7 747.2,303.8 747.4,296.2 747.5,312.5 747.6,297.3 747.7,303.5 747.8,300.3 747.9,303.2 748,300.9 748.1,303.2 748.2,305.9 748.3,302.7 748.5,300.9 748.6,297.1 748.7,300.9 748.8,305.7 748.9,303.2 749,304.2 749.1,291.6 749.2,309.5 749.3,301.3 749.4,308.9 749.6,299.4 749.7,305.8 749.8,302.5 749.9,306.0 750,297.8 750.1,295.7 750.2,299.2 750.3,298.0 750.4,300.6 750.5,320.1 750.7,309.0 750.8,301.4 750.9,305.6 751,314.5 751.1,314.7 751.2,307.4 751.3,294.0 751.4,308.5 751.5,296.7 751.6,307.8 751.8,298.9 751.9,300.8 752,308.9 752.1,307.9 752.2,307.6 752.3,300.5 752.4,312.8 752.5,304.3 752.6,307.7 752.7,294.3 752.8,311.2 753,302.1 753.1,303.1 753.2,296.0 753.3,298.4 753.4,313.1 753.5,294.5 753.6,306.6 753.7,301.6 753.8,318.1 754,295.9 754.1,303.9 754.2,303.9 754.3,307.0 754.4,297.7 754.5,321.1 754.6,305.9 754.7,310.3 754.8,305.8 754.9,296.6 755,310.7 755.2,306.3 755.3,312.5 755.4,301.0 755.5,305.9 755.6,298.7 755.7,294.9 755.8,318.4 755.9,316.4 756,309.5 756.1,305.0 756.3,310.4 756.4,302.0 756.5,306.0 756.6,313.7 756.7,306.0 756.8,313.7 756.9,313.2 757,307.2 757.1,307.8 757.2,302.0 757.4,314.7 757.5,315.7 757.6,302.5 757.7,308.6 757.8,307.1 757.9,307.6 758,315.4 758.1,313.6 758.2,304.6 758.3,305.7 758.5,307.7 758.6,301.8 758.7,297.9 758.8,307.3 758.9,302.7 759,298.6 759.1,307.1 759.2,307.6 759.3,313.1 759.5,300.4 759.6,304.2 759.7,306.0 759.8,311.9 759.9,300.8 760,316.1 760.1,302.9 760.2,298.2 760.3,307.4 760.4,312.9 760.5,313.1 760.7,302.4 760.8,308.0 760.9,303.0 761,311.4 761.1,314.2 761.2,291.3 761.3,312.8 761.4,302.9 761.5,298.7 761.6,307.3 761.8,305.6 761.9,305.0 762,297.0 762.1,307.3 762.2,303.9 762.3,297.2 762.4,312.8 762.5,313.9 762.6,306.3 762.8,308.1 762.9,301.3 763,302.0 763.1,306.9 763.2,302.8 763.3,308.1 763.4,292.2 763.5,300.1 763.6,307.4 763.7,292.1 763.9,304.9 764,301.7 764.1,311.6 764.2,315.0 764.3,297.1 764.4,309.2 764.5,312.5 764.6,311.4 764.7,302.4 764.8,310.0 765,312.8 765.1,322.3 765.2,312.3 765.3,306.5 765.4,310.7 765.5,311.5 765.6,295.9 765.7,304.5 765.8,311.0 765.9,305.0 766,313.7 766.2,304.6 766.3,299.2 766.4,309.5 766.5,300.9 766.6,311.4 766.7,316.0 766.8,310.3 766.9,309.8 767,303.8 767.1,308.1 767.3,312.8 767.4,311.4 767.5,309.2 767.6,306.3 767.7,315.1 767.8,313.1 767.9,309.9 768,314.9 768.1,303.3 768.2,309.5 768.4,316.1 768.5,314.5 768.6,303.4 768.7,312.7 768.8,315.5 768.9,306.2 769,303.8 769.1,319.5 769.2,309.0 769.4,300.3 769.5,297.9 769.6,304.3 769.7,306.6 769.8,317.2 769.9,306.3 770,313.4 770.1,312.5 770.2,306.6 770.3,316.2 770.5,313.9 770.6,300.0 770.7,306.8 770.8,320.3 770.9,315.3 771,317.8 771.1,309.6 771.2,319.6 771.3,312.0 771.4,311.0 771.5,308.5 771.7,310.7 771.8,310.2 771.9,311.7 772,316.5 772.1,304.6 772.2,311.3 772.3,317.5 772.4,319.2 772.5,311.1 772.7,306.1 772.8,310.7 772.9,319.2 773,314.6 773.1,318.1 773.2,314.9 773.3,307.8 773.4,311.5 773.5,313.0 773.6,316.9 773.8,315.1 773.9,312.0 774,323.6 774.1,315.4 774.2,324.2 774.3,307.3 774.4,319.3 774.5,308.2 774.6,322.1 774.7,300.6 774.9,309.0 775,312.1 775.1,315.1 775.2,315.7 775.3,315.2 775.4,308.2 775.5,310.1 775.6,308.2 775.7,316.1 775.8,315.1 776,322.8 776.1,324.5 776.2,312.8 776.3,317.4 776.4,313.2 776.5,314.8 776.6,315.7 776.7,314.4 776.8,325.5 776.9,315.8 777,312.7 777.2,314.7 777.3,312.7 777.4,326.3 777.5,310.2 777.6,311.4 777.7,311.5 777.8,313.3 777.9,311.8 778,309.4 778.2,316.9 778.3,315.2 778.4,311.7 778.5,322.2 778.6,311.5 778.7,318.9 778.8,317.6 778.9,318.7 779,313.6 779.1,321.7 779.2,307.9 779.4,318.1 779.5,319.4 779.6,306.6 779.7,315.2 779.8,324.1 779.9,314.7 780,310.5 780.1,307.2 780.2,309.7 780.4,315.3 780.5,300.8 780.6,315.7 780.7,324.5 780.8,304.3 780.9,307.2 781,309.8 781.1,301.7 781.2,309.8 781.3,314.9 781.5,312.7 781.6,319.5 781.7,312.5 781.8,319.5 781.9,321.8 782,323.7 782.1,315.4 782.2,312.0 782.3,318.1 782.4,325.3 782.5,321.2 782.7,316.7 782.8,317.7 782.9,319.1 783,322.7 783.1,306.7 783.2,315.7 783.3,314.1 783.4,315.4 783.5,322.5 783.7,308.9 783.8,319.3 783.9,317.5 784,319.9 784.1,323.4 784.2,316.0 784.3,321.5 784.4,316.6 784.5,314.7 784.6,307.3 784.8,324.7 784.9,308.1 785,307.1 785.1,319.3 785.2,315.4 785.3,310.3 785.4,322.3 785.5,307.4 785.6,325.0 785.7,313.5 785.9,316.2 786,321.8 786.1,321.1 786.2,317.2 786.3,319.2 786.4,318.6 786.5,319.5 786.6,313.0 786.7,315.8 786.8,316.5 787,315.3 787.1,315.3 787.2,310.0 787.3,316.8 787.4,316.1 787.5,320.8 787.6,324.6 787.7,321.5 787.8,318.7 787.9,324.8 788,309.3 788.2,323.1 788.3,316.9 788.4,321.5 788.5,316.6 788.6,313.5 788.7,310.3 788.8,324.5 788.9,312.2 789,321.4 789.2,309.9 789.3,325.7 789.4,321.7 789.5,318.5 789.6,311.2 789.7,317.7 789.8,312.2 789.9,316.2 790,313.8 790.1,319.1 790.2,320.0 790.4,318.0 790.5,318.5 790.6,320.9 790.7,320.7 790.8,329.2 790.9,327.8 791,323.6 791.1,321.9 791.2,326.0 791.4,307.7 791.5,324.8 791.6,316.4 791.7,314.2 791.8,323.8 791.9,316.2 792,319.8 792.1,324.5 792.2,314.5 792.3,313.3 792.5,303.7 792.6,312.8 792.7,325.1 792.8,312.9 792.9,328.6 793,321.3 793.1,333.3 793.2,315.1 793.3,319.2 793.4,309.2 793.5,314.2 793.7,321.6 793.8,316.2 793.9,314.8 794,324.1 794.1,323.3 794.2,319.3 794.3,331.5 794.4,331.2 794.5,319.2 794.7,321.0 794.8,322.8 794.9,306.9 795,318.6 795.1,313.0 795.2,318.1 795.3,319.8 795.4,322.4 795.5,328.3 795.6,319.8 795.8,322.8 795.9,315.8 796,325.8 796.1,324.3 796.2,319.6 796.3,329.2 796.4,324.8 796.5,320.3 796.6,321.8 796.7,321.9 796.9,319.5 797,318.9 797.1,305.9 797.2,320.8 797.3,324.7 797.4,314.3 797.5,317.9 797.6,321.3 797.7,308.3 797.8,330.1 798,318.3 798.1,322.4 798.2,318.4 798.3,318.5 798.4,317.7 798.5,316.2 798.6,324.3 798.7,323.6 798.8,315.0 798.9,320.4 799,322.6 799.2,326.0 799.3,320.6 799.4,327.2 799.5,312.0 799.6,305.6 799.7,317.0 799.8,324.7 799.9,314.6 800,329.1 800.2,316.9 800.3,321.3 800.4,315.1 800.5,323.6 800.6,319.4 800.7,314.5 800.8,321.8 800.9,312.5 801,322.4 801.1,321.2 801.2,311.9 801.4,322.5 801.5,320.6 801.6,324.4 801.7,325.6 801.8,313.4 801.9,317.9 802,326.9 802.1,323.8 802.2,320.9 802.4,315.7 802.5,317.3 802.6,318.4 802.7,327.6 802.8,309.6 802.9,324.0 803,320.6 803.1,323.1 803.2,314.3 803.3,320.0 803.5,317.8 803.6,322.2 803.7,323.3 803.8,320.3 803.9,318.4 804,317.1 804.1,317.3 804.2,316.7 804.3,333.1 804.4,320.9 804.5,318.2 804.7,316.2 804.8,324.9 804.9,329.1 805,330.6 805.1,326.9 805.2,333.9 805.3,322.7 805.4,316.3 805.5,328.0 805.7,326.3 805.8,325.8 805.9,328.4 806,316.0 806.1,328.3 806.2,317.5 806.3,324.5 806.4,330.3 806.5,324.8 806.6,325.1 806.8,330.7 806.9,327.4 807,318.7 807.1,322.9 807.2,338.6 807.3,318.6 807.4,320.0 807.5,320.8 807.6,306.4 807.7,333.5 807.9,321.9 808,318.6 808.1,334.2 808.2,318.8 808.3,324.8 808.4,329.7 808.5,314.1 808.6,319.2 808.7,329.1 808.8,323.3 809,331.1 809.1,309.2 809.2,330.7 809.3,322.1 809.4,325.2 809.5,314.6 809.6,321.4 809.7,321.1 809.8,318.5 809.9,323.8 810,317.9 810.2,312.8 810.3,311.2 810.4,336.1 810.5,322.1 810.6,317.9 810.7,321.0 810.8,312.4 810.9,323.1 811,315.0 811.2,329.5 811.3,329.9 811.4,332.7 811.5,319.6 811.6,320.4 811.7,314.6 811.8,321.3 811.9,320.2 812,326.8 812.1,315.3 812.2,321.4 812.4,322.0 812.5,312.9 812.6,330.5 812.7,321.4 812.8,323.0 812.9,320.7 813,321.0 813.1,319.1 813.2,332.2 813.4,323.5 813.5,330.5 813.6,323.6 813.7,331.8 813.8,320.5 813.9,321.6 814,314.7 814.1,333.8 814.2,330.7 814.3,325.4 814.5,325.0 814.6,334.8 814.7,330.9 814.8,327.5 814.9,321.1 815,322.1 815.1,324.8 815.2,314.9 815.3,316.9 815.4,320.7 815.6,322.9 815.7,319.5 815.8,323.2 815.9,314.1 816,331.5 816.1,325.5 816.2,324.9 816.3,322.7 816.4,328.2 816.5,334.5 816.7,325.7 816.8,315.8 816.9,327.3 817,321.0 817.1,320.4 817.2,323.4 817.3,326.8 817.4,325.0 817.5,315.8 817.6,321.9 817.8,323.2 817.9,325.6 818,323.7 818.1,316.9 818.2,317.3 818.3,322.8 818.4,322.8 818.5,316.4 818.6,315.9 818.7,321.1 818.9,328.7 819,337.8 819.1,331.7 819.2,325.6 819.3,322.8 819.4,326.3 819.5,328.8 819.6,318.9 819.7,325.6 819.8,329.2 820,333.4 820.1,320.9 820.2,327.6 820.3,322.5 820.4,323.2 820.5,324.0 820.6,324.9 820.7,322.5 820.8,331.8 820.9,322.2 821.1,327.5 821.2,328.1 821.3,325.4 821.4,327.3 821.5,324.6 821.6,328.6 821.7,308.7 821.8,334.1 821.9,324.6 822,328.9 822.2,333.2 822.3,324.0 822.4,317.8 822.5,328.6 822.6,318.0 822.7,336.9 822.8,325.1 822.9,331.4 823,333.6 823.1,330.5 823.2,330.8 823.4,324.3 823.5,316.7 823.6,321.4 823.7,316.8 823.8,327.0 823.9,329.5 824,317.6 824.1,317.4 824.2,330.4 824.4,326.4 824.5,320.5 824.6,325.7 824.7,332.1 824.8,323.1 824.9,335.6 825,312.2 825.1,323.1 825.2,332.2 825.3,319.7 825.5,318.1 825.6,318.6 825.7,324.8 825.8,333.2 825.9,330.8 826,315.6 826.1,327.5 826.2,330.7 826.3,328.5 826.4,335.5 826.5,328.9 826.7,325.0 826.8,329.8 826.9,316.4 827,331.8 827.1,317.4 827.2,323.6 827.3,317.0 827.4,324.4 827.5,337.2 827.6,333.6 827.8,325.4 827.9,331.6 828,319.6 828.1,336.1 828.2,322.3 828.3,328.8 828.4,324.0 828.5,321.6 828.6,338.2 828.8,331.6 828.9,324.3 829,326.2 829.1,334.7 829.2,329.9 829.3,327.5 829.4,329.3 829.5,323.6 829.6,317.7 829.7,323.8 829.9,334.3 830,332.5 830.1,323.1 830.2,321.3 830.3,331.0 830.4,330.2 830.5,339.9 830.6,320.0 830.7,327.4 830.8,330.0 831,323.1 831.1,324.6 831.2,319.4 831.3,332.3 831.4,326.1 831.5,333.1 831.6,327.2 831.7,330.2 831.8,335.5 831.9,333.0 832,324.2 832.2,331.7 832.3,327.7 832.4,340.7 832.5,325.5 832.6,341.7 832.7,330.3 832.8,326.6 832.9,315.0 833,326.0 833.1,332.7 833.3,330.4 833.4,325.7 833.5,325.3 833.6,329.5 833.7,322.5 833.8,323.8 833.9,332.1 834,326.6 834.1,324.6 834.2,335.0 834.4,332.8 834.5,326.5 834.6,329.2 834.7,323.2 834.8,324.3 834.9,330.6 835,321.9 835.1,327.4 835.2,323.6 835.4,311.6 835.5,331.9 835.6,340.3 835.7,320.7 835.8,331.5 835.9,331.7 836,321.8 836.1,330.2 836.2,341.4 836.3,317.9 836.5,329.8 836.6,333.1 836.7,326.3 836.8,327.6 836.9,332.8 837,323.5 837.1,335.3 837.2,326.9 837.3,330.5 837.4,324.8 837.5,325.4 837.7,335.2 837.8,331.6 837.9,318.7 838,323.6 838.1,323.6 838.2,322.8 838.3,326.7 838.4,337.0 838.5,330.9 838.6,329.7 838.8,327.9 838.9,340.8 839,320.0 839.1,333.6 839.2,324.3 839.3,341.4 839.4,326.6 839.5,333.5 839.6,322.0 839.8,333.1 839.9,321.7 840,321.8 840.1,335.0 840.2,334.4 840.3,333.0 840.4,329.0 840.5,327.3 840.6,334.4 840.7,331.5 840.9,329.7 841,325.8 841.1,333.9 841.2,327.4 841.3,326.2 841.4,323.5 841.5,333.1 841.6,321.9 841.7,320.7 841.8,327.0 842,328.8 842.1,325.9 842.2,331.3 842.3,329.3 842.4,323.6 842.5,330.7 842.6,330.4 842.7,329.8 842.8,328.1 842.9,323.3 843,323.5 843.2,339.2 843.3,328.9 843.4,329.6 843.5,324.4 843.6,322.9 843.7,331.2 843.8,331.6 843.9,340.4 844,325.9 844.2,326.7 844.3,329.5 844.4,336.6 844.5,329.9 844.6,331.9 844.7,333.9 844.8,330.7 844.9,338.6 845,334.1 845.1,345.5 845.2,328.5 845.4,319.7 845.5,340.3 845.6,327.2 845.7,330.3 845.8,332.8 845.9,325.3 846,337.9 846.1,328.3 846.2,333.1 846.4,331.3 846.5,340.0 846.6,331.4 846.7,327.5 846.8,330.1 846.9,340.9 847,324.3 847.1,328.3 847.2,328.7 847.3,326.2 847.5,333.6 847.6,324.6 847.7,327.7 847.8,332.3 847.9,330.8 848,325.5 848.1,317.5 848.2,333.7 848.3,346.3 848.4,328.8 848.5,335.5 848.7,332.2 848.8,333.5 848.9,327.7 849,330.1 849.1,335.5 849.2,333.6 849.3,335.3 849.4,332.4 849.5,331.8 849.7,326.0 849.8,338.9 849.9,323.7 850,337.0 850.1,328.0 850.2,316.4 850.3,331.5 850.4,323.2 850.5,329.1 850.6,333.4 850.8,323.1 850.9,339.0 851,327.1 851.1,332.0 851.2,326.0 851.3,325.5 851.4,327.8 851.5,331.0 851.6,324.5 851.7,337.8 851.9,325.1 852,323.9 852.1,333.8 852.2,329.5 852.3,327.8 852.4,323.0 852.5,329.6 852.6,331.9 852.7,332.7 852.8,336.1 853,341.0 853.1,322.8 853.2,323.9 853.3,325.9 853.4,332.9 853.5,322.6 853.6,322.9 853.7,331.0 853.8,328.2 853.9,338.1 854,329.2 854.2,321.3 854.3,324.5 854.4,325.0 854.5,327.4 854.6,333.9 854.7,337.0 854.8,335.2 854.9,331.7 855,332.9 855.2,325.3 855.3,338.9 855.4,327.4 855.5,339.6 855.6,332.0 855.7,332.4 855.8,326.2 855.9,333.4 856,332.5 856.1,329.9 856.2,336.4 856.4,322.4 856.5,333.5 856.6,331.7 856.7,325.6 856.8,330.5 856.9,332.7 857,325.9 857.1,326.4 857.2,333.3 857.4,322.7 857.5,334.7 857.6,323.4 857.7,325.4 857.8,331.0 857.9,333.2 858,327.7 858.1,342.9 858.2,339.8 858.3,324.4 858.5,335.6 858.6,328.5 858.7,327.1 858.8,336.8 858.9,325.8 859,342.5 859.1,332.4 859.2,333.1 859.3,344.1 859.4,325.1 859.5,340.9 859.7,339.1 859.8,327.8 859.9,339.7 860,331.5 860.1,335.7 860.2,335.8 860.3,338.2 860.4,335.3 860.5,333.0 860.7,330.8 860.8,337.4 860.9,327.4 861,333.3 861.1,329.0 861.2,336.5 861.3,340.3 861.4,318.8 861.5,336.6 861.6,324.4 861.8,328.9 861.9,333.1 862,335.6 862.1,335.4 862.2,326.3 862.3,336.8 862.4,329.6 862.5,334.8 862.6,334.8 862.7,335.7 862.9,339.6 863,328.5 863.1,327.3 863.2,328.4 863.3,338.0 863.4,336.7 863.5,337.6 863.6,328.6 863.7,335.7 863.8,336.4 864,331.8 864.1,331.7 864.2,332.9 864.3,329.3 864.4,338.5 864.5,324.6 864.6,337.7 864.7,338.8 864.8,326.4 864.9,339.3 865.1,333.4 865.2,339.0 865.3,325.3 865.4,329.9 865.5,325.6 865.6,334.0 865.7,341.2 865.8,323.1 865.9,324.9 866,333.9 866.1,331.6 866.3,335.5 866.4,343.0 866.5,336.7 866.6,341.3 866.7,333.4 866.8,334.2 866.9,329.3 867,323.5 867.1,329.1 867.2,335.4 867.4,337.8 867.5,325.6 867.6,349.6 867.7,345.4 867.8,345.0 867.9,324.9 868,346.2 868.1,334.5 868.2,326.0 868.4,334.6 868.5,345.8 868.6,333.9 868.7,335.0 868.8,331.9 868.9,338.7 869,337.0 869.1,328.8 869.2,334.4 869.3,339.0 869.5,332.1 869.6,328.8 869.7,325.6 869.8,326.2 869.9,342.7 870,333.2 870.1,342.7 870.2,334.2 870.3,318.5 870.4,332.9 870.6,333.2 870.7,339.2 870.8,336.8 870.9,331.4 871,329.8 871.1,332.5 871.2,321.4 871.3,344.2 871.4,329.7 871.5,344.4 871.6,328.1 871.8,334.3 871.9,340.3 872,335.6 872.1,339.5 872.2,332.8 872.3,344.5 872.4,330.0 872.5,330.9 872.6,336.4 872.8,334.4 872.9,328.6 873,325.8 873.1,332.8 873.2,332.3 873.3,345.8 873.4,342.2 873.5,334.5 873.6,337.7 873.7,342.1 873.9,335.3 874,326.7 874.1,327.9 874.2,346.5 874.3,334.0 874.4,339.8 874.5,330.2 874.6,337.3 874.7,334.7 874.8,333.4 875,338.7 875.1,347.0 875.2,345.3 875.3,332.0 875.4,339.5 875.5,337.4 875.6,331.2 875.7,334.3 875.8,329.2 875.9,341.6 876.1,326.9 876.2,333.2 876.3,331.2 876.4,321.5 876.5,331.5 876.6,335.7 876.7,332.5 876.8,333.5 876.9,332.1 877,337.0 877.2,331.3 877.3,327.0 877.4,340.8 877.5,330.9 877.6,336.3 877.7,331.0 877.8,337.2 877.9,326.8 878,333.0 878.1,337.9 878.2,337.5 878.4,335.1 878.5,330.0 878.6,332.1 878.7,326.8 878.8,337.0 878.9,335.9 879,332.3 879.1,320.5 879.2,334.9 879.4,329.2 879.5,327.8 879.6,344.4 879.7,337.6 879.8,333.8 879.9,335.9 880,331.2 880.1,331.9 880.2,342.2 880.3,341.4 880.5,340.3 880.6,355.3 880.7,347.8 880.8,336.6 880.9,339.0 881,345.7 881.1,340.2 881.2,338.2 881.3,339.9 881.4,329.7 881.6,336.9 881.7,350.4 881.8,332.2 881.9,329.9 882,327.4 882.1,333.2 882.2,335.9 882.3,328.2 882.4,333.0 882.5,337.4 882.7,333.1 882.8,341.3 882.9,333.8 883,345.2 883.1,336.4 883.2,324.2 883.3,341.2 883.4,339.7 883.5,338.2 883.6,334.1 883.8,347.5 883.9,342.3 884,339.7 884.1,341.9 884.2,345.6 884.3,331.7 884.4,332.0 884.5,327.7 884.6,335.2 884.7,343.0 884.9,344.1 885,343.1 885.1,347.0 885.2,341.0 885.3,334.2 885.4,337.5 885.5,339.0 885.6,341.4 885.7,329.2 885.8,336.6 886,331.7 886.1,318.0 886.2,340.7 886.3,330.1 886.4,332.2 886.5,341.5 886.6,336.4 886.7,339.9 886.8,340.9 886.9,330.2 887.1,340.3 887.2,349.3 887.3,329.0 887.4,335.1 887.5,342.0 887.6,339.9 887.7,334.3 887.8,339.9 887.9,336.3 888,330.5 888.2,337.0 888.3,334.5 888.4,335.5 888.5,336.6 888.6,342.6 888.7,330.8 888.8,341.8 888.9,337.2 889,346.9 889.1,338.3 889.2,336.1 889.4,342.6 889.5,341.7 889.6,327.6 889.7,332.1 889.8,341.7 889.9,332.5 890,337.6 890.1,331.0 890.2,341.1 890.4,335.2 890.5,334.6 890.6,338.4 890.7,340.7 890.8,327.1 890.9,339.7 891,331.3 891.1,339.5 891.2,342.0 891.3,336.0 891.5,347.8 891.6,341.0 891.7,335.4 891.8,347.6 891.9,342.8 892,338.8 892.1,335.9 892.2,330.9 892.3,332.3 892.4,337.9 892.6,349.9 892.7,336.8 892.8,337.7 892.9,339.8 893,337.1 893.1,344.8 893.2,333.4 893.3,337.9 893.4,346.3 893.5,339.0 893.7,333.5 893.8,338.6 893.9,339.7 894,333.1 894.1,338.3 894.2,339.9 894.3,338.3 894.4,339.8 894.5,342.1 894.6,341.3 894.8,334.9 894.9,335.0 895,338.4 895.1,346.2 895.2,338.5 895.3,334.7 895.4,333.8 895.5,345.5 895.6,335.0 895.7,335.2 895.9,335.2 896,329.5 896.1,356.7 896.2,343.0 896.3,344.1 896.4,329.3 896.5,338.7 896.6,331.4 896.7,339.9 896.8,338.3 897,341.4 897.1,333.7 897.2,342.5 897.3,338.6 897.4,334.4 897.5,340.6 897.6,348.0 897.7,348.0 897.8,343.7 897.9,329.2 898,343.1 898.2,336.9 898.3,333.4 898.4,342.5 898.5,337.5 898.6,344.4 898.7,335.9 898.8,335.4 898.9,346.1 899,338.4 899.1,342.2 899.3,335.8 899.4,333.3 899.5,339.5 899.6,345.0 899.7,344.9 899.8,333.0 899.9,335.2 900,336.7 900.1,340.2 900.2,342.6 900.4,335.9 900.5,334.7 900.6,327.2 900.7,334.4 900.8,338.9 900.9,326.6 901,351.7 901.1,342.1 901.2,333.2 901.4,339.5 901.5,340.3 901.6,336.7 901.7,329.3 901.8,340.2 901.9,327.7 902,343.1 902.1,344.6 902.2,345.5 902.3,342.9 902.5,349.2 902.6,338.5 902.7,333.2 902.8,341.2 902.9,345.7 903,342.0" fill="none" stroke="#0072bd" stroke-width="0.9" stroke-linejoin="bevel"/>
 <polyline points="353.0,251.7 375.0,258.8 573.0,231.8 628.0,252.9 689.6,277.0 738.0,297.7 776.5,313.4 793.0,319.1 809.5,323.0 903.0,340.3" fill="none" stroke="#d95319" stroke-width="0.9"/>
 <polyline points="353,532 375,532 375,412 573.500,412 573.500,592.600 793.500,592.600 793.500,533.600 903.500,533.600" fill="none" stroke="#0072bd" stroke-width="1.2"/>
 <rect x="796.5" y="195.500" width="94" height="36" fill="#fff" stroke="#2e2e2e"/>
 <line x1="800" x2="830.500" y1="205.500" y2="205.500" stroke="#0072bd"/>
 <line x1="800" x2="830.500" y1="221.500" y2="221.500" stroke="#d95319"/>
 <text x="833" y="210" font-size="12" fill="#000">Measured</text>
 <text x="833" y="227" font-size="12" fill="#000">Simulated</text>
 <text x="628" y="164" font-size="14.67" font-weight="bold" text-anchor="middle" fill="#000" letter-spacing=".3">NewData</text>
 <text x="628.500" y="186" font-size="13" font-weight="bold" text-anchor="middle" fill="#666">spe_psbloadshed_machine/Gain2:1</text>
 <text x="628.500" y="407" font-size="13" font-weight="bold" text-anchor="middle" fill="#666">spe_psbloadshed_machine/Input:1</text>
 <text x="628" y="631" font-size="14.67" text-anchor="middle" fill="#000" letter-spacing=".18">Time (seconds)</text>
 <text transform="translate(317,394.500) rotate(-90)" font-size="14.67" text-anchor="middle" fill="#000" letter-spacing=".18">Amplitude</text>
 <g font-size="13.33" fill="#6c6c6c" text-anchor="end">
  <text x="348" y="198">1.1</text><text x="348" y="258">1</text><text x="348" y="318">0.9</text><text x="348" y="378">0.8</text>
  <text x="348" y="417.600">1</text><text x="348" y="478">0.5</text><text x="348" y="538.300">0</text><text x="348" y="598.600">-0.5</text>
 </g>
 <g font-size="13.33" fill="#6c6c6c" text-anchor="middle">
  <text x="353.5" y="612">0</text>
<text x="408.5" y="612">0.05</text>
<text x="463.5" y="612">0.1</text>
<text x="518.5" y="612">0.15</text>
<text x="573.5" y="612">0.2</text>
<text x="628.5" y="612">0.25</text>
<text x="683.5" y="612">0.3</text>
<text x="738.5" y="612">0.35</text>
<text x="793.5" y="612">0.4</text>
<text x="848.5" y="612">0.45</text>
<text x="903.5" y="612">0.5</text>
 </g>
</svg>
</body></html>
